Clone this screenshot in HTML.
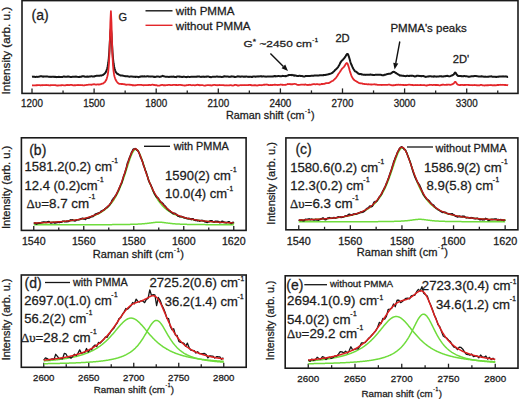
<!DOCTYPE html>
<html><head><meta charset="utf-8"><style>
html,body{margin:0;padding:0;background:#fff;}
body{width:520px;height:399px;overflow:hidden;}
svg{display:block;font-family:"Liberation Sans", sans-serif;}
text{stroke:#1c1c1c;stroke-width:0.28px;}
</style></head><body>
<svg width="520" height="399" viewBox="0 0 520 399">
<rect x="22.0" y="0.6" width="496.0" height="92.80000000000001" fill="none" stroke="#1a1a1a" stroke-width="1.6"/>
<line x1="32.00" y1="93.4" x2="32.00" y2="88.4" stroke="#222" stroke-width="1.3"/><line x1="94.10" y1="93.4" x2="94.10" y2="88.4" stroke="#222" stroke-width="1.3"/><line x1="156.20" y1="93.4" x2="156.20" y2="88.4" stroke="#222" stroke-width="1.3"/><line x1="218.30" y1="93.4" x2="218.30" y2="88.4" stroke="#222" stroke-width="1.3"/><line x1="280.40" y1="93.4" x2="280.40" y2="88.4" stroke="#222" stroke-width="1.3"/><line x1="342.50" y1="93.4" x2="342.50" y2="88.4" stroke="#222" stroke-width="1.3"/><line x1="404.60" y1="93.4" x2="404.60" y2="88.4" stroke="#222" stroke-width="1.3"/><line x1="466.70" y1="93.4" x2="466.70" y2="88.4" stroke="#222" stroke-width="1.3"/><line x1="63.05" y1="93.4" x2="63.05" y2="90.4" stroke="#222" stroke-width="1.3"/><line x1="125.15" y1="93.4" x2="125.15" y2="90.4" stroke="#222" stroke-width="1.3"/><line x1="187.25" y1="93.4" x2="187.25" y2="90.4" stroke="#222" stroke-width="1.3"/><line x1="249.35" y1="93.4" x2="249.35" y2="90.4" stroke="#222" stroke-width="1.3"/><line x1="311.45" y1="93.4" x2="311.45" y2="90.4" stroke="#222" stroke-width="1.3"/><line x1="373.55" y1="93.4" x2="373.55" y2="90.4" stroke="#222" stroke-width="1.3"/><line x1="435.65" y1="93.4" x2="435.65" y2="90.4" stroke="#222" stroke-width="1.3"/><line x1="497.75" y1="93.4" x2="497.75" y2="90.4" stroke="#222" stroke-width="1.3"/>
<text x="32.00" y="107.3" font-size="10.0" text-anchor="middle" font-weight="normal" fill="#1c1c1c" textLength="21.8" lengthAdjust="spacingAndGlyphs">1200</text><text x="94.10" y="107.3" font-size="10.0" text-anchor="middle" font-weight="normal" fill="#1c1c1c" textLength="21.8" lengthAdjust="spacingAndGlyphs">1500</text><text x="156.20" y="107.3" font-size="10.0" text-anchor="middle" font-weight="normal" fill="#1c1c1c" textLength="21.8" lengthAdjust="spacingAndGlyphs">1800</text><text x="218.30" y="107.3" font-size="10.0" text-anchor="middle" font-weight="normal" fill="#1c1c1c" textLength="21.8" lengthAdjust="spacingAndGlyphs">2100</text><text x="280.40" y="107.3" font-size="10.0" text-anchor="middle" font-weight="normal" fill="#1c1c1c" textLength="21.8" lengthAdjust="spacingAndGlyphs">2400</text><text x="342.50" y="107.3" font-size="10.0" text-anchor="middle" font-weight="normal" fill="#1c1c1c" textLength="21.8" lengthAdjust="spacingAndGlyphs">2700</text><text x="404.60" y="107.3" font-size="10.0" text-anchor="middle" font-weight="normal" fill="#1c1c1c" textLength="21.8" lengthAdjust="spacingAndGlyphs">3000</text><text x="466.70" y="107.3" font-size="10.0" text-anchor="middle" font-weight="normal" fill="#1c1c1c" textLength="21.8" lengthAdjust="spacingAndGlyphs">3300</text>
<text x="270.3" y="119.2" font-size="10.8" text-anchor="middle" fill="#1c1c1c">Raman shift (cm<tspan font-size="5.40" dx="0.43" dy="-6.48">-<tspan dx="0.76">1</tspan></tspan><tspan dx="0.43" dy="6.48">)</tspan></text>
<text transform="translate(10.2,50.6) rotate(-90)" font-size="11.7" text-anchor="middle" fill="#1c1c1c">Intensity (arb. u.)</text>
<polyline points="32.00,76.74 32.53,76.64 33.06,76.61 33.59,76.78 34.12,76.81 34.65,76.80 35.18,76.95 35.71,76.98 36.24,76.85 36.77,76.81 37.30,76.86 37.83,76.88 38.36,76.71 38.88,76.65 39.41,76.56 39.94,76.43 40.47,76.17 41.00,76.28 41.53,76.20 42.06,76.42 42.59,76.56 43.12,76.73 43.65,76.50 44.18,76.57 44.71,76.54 45.24,76.53 45.77,76.40 46.30,76.60 46.83,76.55 47.36,76.48 47.89,76.57 48.42,76.64 48.95,76.69 49.48,76.87 50.01,76.90 50.54,76.78 51.07,76.87 51.59,76.88 52.12,76.66 52.65,76.73 53.18,76.88 53.71,76.71 54.24,76.79 54.77,76.92 55.30,76.85 55.83,76.91 56.36,77.14 56.89,76.93 57.42,76.93 57.95,77.05 58.48,76.83 59.01,76.82 59.54,76.93 60.07,76.99 60.60,77.07 61.13,77.02 61.66,76.97 62.19,76.93 62.72,76.88 63.25,76.61 63.78,76.62 64.30,76.58 64.83,76.71 65.36,76.81 65.89,76.80 66.42,76.77 66.95,76.86 67.48,76.56 68.01,76.40 68.54,76.52 69.07,76.72 69.60,76.73 70.13,76.89 70.66,76.90 71.19,76.88 71.72,76.90 72.25,76.79 72.78,76.79 73.31,76.86 73.84,76.87 74.37,76.69 74.90,76.62 75.43,76.64 75.96,76.56 76.49,76.69 77.02,76.77 77.54,76.87 78.07,76.94 78.60,76.94 79.13,76.93 79.66,76.86 80.19,76.91 80.72,76.71 81.25,76.77 81.78,76.49 82.31,76.28 82.84,76.18 83.37,76.22 83.90,76.19 84.43,76.58 84.96,76.69 85.49,76.65 86.02,76.76 86.55,76.78 87.08,76.52 87.61,76.58 88.14,76.70 88.67,76.72 89.20,76.55 89.73,76.54 90.25,76.55 90.78,76.36 91.31,76.32 91.84,76.31 92.37,76.40 92.90,76.39 93.43,76.48 93.96,76.37 94.49,76.41 95.02,76.08 95.55,75.91 96.08,75.90 96.61,75.70 97.14,75.74 97.67,75.71 98.20,75.84 98.73,75.65 99.26,75.86 99.79,75.70 100.32,75.61 100.85,75.54 101.38,75.63 101.91,75.38 102.44,75.14 102.96,75.04 103.49,74.53 104.02,74.14 104.55,73.66 105.08,73.13 105.61,72.37 106.14,71.49 106.67,70.03 107.20,68.55 107.73,66.20 108.26,63.04 108.79,58.25 109.32,51.34 109.85,41.97 110.38,32.60 110.91,28.70 111.44,33.74 111.97,43.38 112.50,52.19 113.03,58.77 113.56,63.51 114.09,66.63 114.62,68.76 115.15,70.52 115.67,71.90 116.20,72.47 116.73,73.19 117.26,73.75 117.79,73.96 118.32,74.23 118.85,74.65 119.38,74.91 119.91,75.09 120.44,75.48 120.97,75.49 121.50,75.59 122.03,75.58 122.56,75.62 123.09,75.79 123.62,75.86 124.15,75.96 124.68,76.12 125.21,76.25 125.74,76.11 126.27,76.26 126.80,76.24 127.33,76.26 127.86,76.33 128.39,76.53 128.91,76.56 129.44,76.65 129.97,76.63 130.50,76.50 131.03,76.50 131.56,76.54 132.09,76.50 132.62,76.63 133.15,76.86 133.68,76.86 134.21,76.87 134.74,76.84 135.27,76.95 135.80,76.76 136.33,76.77 136.86,76.73 137.39,76.87 137.92,76.92 138.45,77.20 138.98,77.00 139.51,76.79 140.04,76.79 140.57,76.50 141.10,76.35 141.62,76.56 142.15,76.57 142.68,76.27 143.21,76.41 143.74,76.42 144.27,76.31 144.80,76.48 145.33,76.61 145.86,76.44 146.39,76.42 146.92,76.35 147.45,76.18 147.98,76.32 148.51,76.47 149.04,76.53 149.57,76.53 150.10,76.63 150.63,76.48 151.16,76.40 151.69,76.38 152.22,76.40 152.75,76.50 153.28,76.64 153.81,76.94 154.33,76.78 154.86,76.95 155.39,76.90 155.92,76.87 156.45,76.52 156.98,76.61 157.51,76.60 158.04,76.60 158.57,76.61 159.10,76.73 159.63,76.89 160.16,76.82 160.69,76.60 161.22,76.53 161.75,76.36 162.28,75.91 162.81,75.86 163.34,76.22 163.87,76.29 164.40,76.38 164.93,76.61 165.46,76.78 165.99,76.66 166.52,76.66 167.05,76.77 167.57,76.87 168.10,76.84 168.63,76.88 169.16,76.90 169.69,76.80 170.22,76.84 170.75,76.69 171.28,76.75 171.81,76.60 172.34,76.69 172.87,76.64 173.40,76.57 173.93,76.64 174.46,76.91 174.99,76.88 175.52,76.96 176.05,77.13 176.58,76.69 177.11,76.57 177.64,76.61 178.17,76.54 178.70,76.39 179.23,76.63 179.76,76.59 180.28,76.71 180.81,76.74 181.34,76.85 181.87,77.03 182.40,76.99 182.93,76.83 183.46,76.61 183.99,76.77 184.52,76.71 185.05,76.86 185.58,76.97 186.11,77.16 186.64,77.03 187.17,76.90 187.70,76.79 188.23,76.73 188.76,76.87 189.29,76.90 189.82,76.92 190.35,76.88 190.88,76.81 191.41,76.82 191.94,76.82 192.47,76.83 192.99,76.85 193.52,76.81 194.05,76.64 194.58,76.67 195.11,76.63 195.64,76.64 196.17,76.73 196.70,76.74 197.23,76.50 197.76,76.51 198.29,76.45 198.82,76.56 199.35,76.47 199.88,76.69 200.41,76.86 200.94,76.92 201.47,76.77 202.00,76.86 202.53,76.81 203.06,76.55 203.59,76.63 204.12,76.89 204.65,76.85 205.18,76.83 205.71,76.82 206.23,76.81 206.76,76.48 207.29,76.39 207.82,76.54 208.35,76.55 208.88,76.63 209.41,76.91 209.94,77.04 210.47,76.97 211.00,77.26 211.53,77.13 212.06,76.92 212.59,76.75 213.12,76.70 213.65,76.65 214.18,76.77 214.71,76.73 215.24,76.78 215.77,76.73 216.30,76.60 216.83,76.49 217.36,76.60 217.89,76.72 218.42,76.74 218.94,76.70 219.47,76.75 220.00,76.71 220.53,76.73 221.06,76.95 221.59,77.02 222.12,77.00 222.65,76.84 223.18,76.83 223.71,76.44 224.24,76.24 224.77,76.32 225.30,76.56 225.83,76.50 226.36,76.52 226.89,76.63 227.42,76.47 227.95,76.47 228.48,76.71 229.01,76.90 229.54,76.86 230.07,76.81 230.60,76.74 231.13,76.49 231.65,76.35 232.18,76.44 232.71,76.44 233.24,76.56 233.77,76.68 234.30,76.91 234.83,76.85 235.36,77.02 235.89,76.89 236.42,76.74 236.95,76.60 237.48,76.51 238.01,76.31 238.54,76.41 239.07,76.43 239.60,76.48 240.13,76.71 240.66,76.68 241.19,76.52 241.72,76.56 242.25,76.57 242.78,76.43 243.31,76.71 243.84,76.81 244.36,76.67 244.89,76.53 245.42,76.65 245.95,76.59 246.48,76.38 247.01,76.64 247.54,76.79 248.07,76.84 248.60,76.76 249.13,76.92 249.66,76.66 250.19,76.86 250.72,76.70 251.25,76.90 251.78,76.86 252.31,76.99 252.84,76.57 253.37,76.54 253.90,76.48 254.43,76.42 254.96,76.51 255.49,76.71 256.02,76.64 256.55,76.49 257.08,76.57 257.60,76.45 258.13,76.36 258.66,76.38 259.19,76.40 259.72,76.34 260.25,76.21 260.78,76.26 261.31,76.43 261.84,76.30 262.37,76.41 262.90,76.47 263.43,76.37 263.96,76.36 264.49,76.46 265.02,76.61 265.55,76.60 266.08,76.73 266.61,76.62 267.14,76.59 267.67,76.49 268.20,76.55 268.73,76.57 269.26,76.59 269.79,76.55 270.31,76.47 270.84,76.49 271.37,76.52 271.90,76.43 272.43,76.53 272.96,76.36 273.49,76.41 274.02,76.20 274.55,76.10 275.08,76.09 275.61,76.37 276.14,76.14 276.67,76.13 277.20,76.23 277.73,76.11 278.26,76.03 278.79,76.09 279.32,76.11 279.85,76.23 280.38,76.25 280.91,76.23 281.44,76.19 281.97,76.12 282.50,75.85 283.02,76.08 283.55,75.96 284.08,76.04 284.61,76.12 285.14,76.26 285.67,76.01 286.20,76.16 286.73,75.95 287.26,75.70 287.79,75.48 288.32,75.23 288.85,75.00 289.38,75.09 289.91,75.06 290.44,74.98 290.97,75.07 291.50,75.16 292.03,74.86 292.56,75.10 293.09,75.24 293.62,75.48 294.15,75.32 294.68,75.67 295.21,75.54 295.74,75.61 296.26,75.70 296.79,75.94 297.32,75.97 297.85,76.06 298.38,76.00 298.91,75.84 299.44,75.77 299.97,75.82 300.50,75.91 301.03,75.99 301.56,76.03 302.09,76.04 302.62,76.18 303.15,76.38 303.68,76.47 304.21,76.40 304.74,76.39 305.27,76.20 305.80,75.93 306.33,75.93 306.86,75.89 307.39,75.95 307.92,75.99 308.45,76.08 308.97,76.06 309.50,76.08 310.03,75.91 310.56,75.88 311.09,75.78 311.62,75.81 312.15,75.86 312.68,75.80 313.21,75.81 313.74,75.71 314.27,75.60 314.80,75.55 315.33,75.45 315.86,75.42 316.39,75.55 316.92,75.56 317.45,75.52 317.98,75.65 318.51,75.51 319.04,75.43 319.57,75.35 320.10,75.36 320.63,75.23 321.16,75.30 321.68,75.29 322.21,75.27 322.74,75.16 323.27,75.27 323.80,75.01 324.33,74.96 324.86,74.92 325.39,74.90 325.92,74.79 326.45,74.79 326.98,74.61 327.51,74.52 328.04,74.41 328.57,74.24 329.10,74.00 329.63,73.91 330.16,73.77 330.69,73.62 331.22,73.39 331.75,73.13 332.28,72.89 332.81,72.44 333.34,71.73 333.87,71.36 334.39,70.93 334.92,70.23 335.45,69.65 335.98,69.44 336.51,68.72 337.04,68.18 337.57,67.71 338.10,67.11 338.63,66.09 339.16,65.20 339.69,64.14 340.22,63.00 340.75,62.04 341.28,61.31 341.81,60.66 342.34,60.27 342.87,59.70 343.40,59.09 343.93,58.53 344.46,57.89 344.99,57.09 345.52,56.32 346.05,55.39 346.58,54.60 347.11,54.04 347.63,53.90 348.16,54.68 348.69,56.02 349.22,57.70 349.75,59.49 350.28,61.47 350.81,63.08 351.34,64.54 351.87,65.64 352.40,66.94 352.93,68.07 353.46,69.02 353.99,69.77 354.52,70.63 355.05,71.27 355.58,71.37 356.11,71.72 356.64,72.19 357.17,72.56 357.70,72.93 358.23,73.56 358.76,73.81 359.29,73.97 359.82,74.14 360.34,74.06 360.87,74.07 361.40,74.24 361.93,74.51 362.46,74.51 362.99,74.64 363.52,74.73 364.05,74.84 364.58,74.69 365.11,74.91 365.64,74.86 366.17,74.86 366.70,74.73 367.23,74.84 367.76,74.82 368.29,74.79 368.82,74.73 369.35,74.80 369.88,74.66 370.41,74.41 370.94,74.67 371.47,74.82 372.00,74.84 372.53,74.85 373.05,75.11 373.58,74.98 374.11,75.03 374.64,74.89 375.17,74.84 375.70,74.75 376.23,74.70 376.76,74.65 377.29,74.76 377.82,74.74 378.35,74.72 378.88,74.75 379.41,74.76 379.94,74.66 380.47,74.70 381.00,74.80 381.53,75.05 382.06,75.15 382.59,75.21 383.12,75.26 383.65,75.27 384.18,75.02 384.71,74.69 385.24,74.67 385.77,74.66 386.29,74.38 386.82,74.18 387.35,74.07 387.88,74.06 388.41,73.84 388.94,73.80 389.47,73.84 390.00,73.87 390.53,73.54 391.06,73.40 391.59,73.00 392.12,72.60 392.65,72.10 393.18,71.99 393.71,71.82 394.24,71.92 394.77,72.17 395.30,72.62 395.83,72.98 396.36,73.21 396.89,73.53 397.42,73.83 397.95,74.36 398.48,74.60 399.00,74.93 399.53,75.26 400.06,75.63 400.59,75.46 401.12,75.43 401.65,75.65 402.18,75.70 402.71,75.63 403.24,75.67 403.77,75.95 404.30,76.05 404.83,76.11 405.36,76.15 405.89,76.04 406.42,75.95 406.95,75.79 407.48,75.81 408.01,75.84 408.54,76.04 409.07,75.83 409.60,75.91 410.13,75.81 410.66,75.73 411.19,75.73 411.71,75.88 412.24,75.63 412.77,75.85 413.30,75.92 413.83,76.11 414.36,76.36 414.89,76.61 415.42,76.32 415.95,76.21 416.48,75.99 417.01,75.75 417.54,75.77 418.07,75.76 418.60,75.89 419.13,75.87 419.66,75.96 420.19,75.95 420.72,76.13 421.25,76.09 421.78,76.20 422.31,76.11 422.84,75.96 423.37,75.99 423.90,76.19 424.43,76.45 424.95,76.65 425.48,76.90 426.01,76.84 426.54,76.80 427.07,76.60 427.60,76.47 428.13,76.37 428.66,76.45 429.19,76.27 429.72,76.27 430.25,76.17 430.78,76.16 431.31,76.39 431.84,76.43 432.37,76.41 432.90,76.58 433.43,76.69 433.96,76.35 434.49,76.34 435.02,76.46 435.55,76.44 436.08,76.38 436.61,76.65 437.14,76.60 437.66,76.52 438.19,76.44 438.72,76.58 439.25,76.23 439.78,76.23 440.31,76.17 440.84,76.29 441.37,76.20 441.90,76.54 442.43,76.44 442.96,76.57 443.49,76.47 444.02,76.34 444.55,76.25 445.08,76.31 445.61,76.02 446.14,76.00 446.67,75.91 447.20,75.78 447.73,75.89 448.26,76.11 448.79,76.29 449.32,76.39 449.85,76.26 450.37,76.09 450.90,75.90 451.43,75.52 451.96,75.44 452.49,75.33 453.02,74.90 453.55,74.59 454.08,74.00 454.61,73.08 455.14,72.45 455.67,72.88 456.20,73.68 456.73,74.68 457.26,75.31 457.79,75.74 458.32,75.99 458.85,76.02 459.38,76.00 459.91,76.03 460.44,76.07 460.97,75.95 461.50,76.30 462.03,76.36 462.56,76.29 463.08,76.11 463.61,76.24 464.14,76.08 464.67,76.01 465.20,76.15 465.73,76.27 466.26,76.36 466.79,76.30 467.32,76.38 467.85,76.47 468.38,76.80 468.91,76.65 469.44,76.68 469.97,76.60 470.50,76.58 471.03,76.21 471.56,76.27 472.09,76.31 472.62,76.30 473.15,76.13 473.68,76.20 474.21,76.04 474.74,75.90 475.27,75.95 475.80,76.07 476.32,76.10 476.85,76.13 477.38,76.23 477.91,76.36 478.44,76.40 478.97,76.41 479.50,76.50 480.03,76.61 480.56,76.47 481.09,76.30 481.62,76.23 482.15,76.46 482.68,76.42 483.21,76.60 483.74,76.67 484.27,76.85 484.80,76.64 485.33,76.60 485.86,76.74 486.39,76.86 486.92,76.72 487.45,76.77 487.98,76.82 488.51,76.69 489.03,76.56 489.56,76.44 490.09,76.42 490.62,76.39 491.15,76.28 491.68,76.46 492.21,76.67 492.74,76.78 493.27,76.67 493.80,76.74 494.33,76.82 494.86,76.87 495.39,76.81 495.92,76.94 496.45,77.03 496.98,76.73 497.51,76.64 498.04,76.66 498.57,76.72 499.10,76.49 499.63,76.62 500.16,76.60 500.69,76.57 501.22,76.48 501.74,76.41 502.27,76.37 502.80,76.49 503.33,76.38 503.86,76.37 504.39,76.55 504.92,76.45 505.45,76.38 505.98,76.37 506.51,76.51 507.04,76.67 507.57,76.98 508.10,76.94" fill="none" stroke="#161616" stroke-width="2.0" stroke-linejoin="round" />
<polyline points="32.00,85.27 32.53,85.30 33.06,85.29 33.59,85.39 34.12,85.28 34.65,85.33 35.18,85.27 35.71,85.33 36.24,85.22 36.77,85.24 37.30,85.26 37.83,85.05 38.36,85.07 38.88,85.12 39.41,85.09 39.94,85.14 40.47,85.41 41.00,85.29 41.53,85.18 42.06,85.15 42.59,85.24 43.12,85.04 43.65,85.17 44.18,85.18 44.71,85.10 45.24,85.11 45.77,85.22 46.30,85.01 46.83,85.03 47.36,85.20 47.89,85.19 48.42,85.17 48.95,85.31 49.48,85.40 50.01,85.26 50.54,85.19 51.07,85.23 51.59,85.15 52.12,85.05 52.65,85.10 53.18,85.08 53.71,85.03 54.24,85.04 54.77,85.17 55.30,85.18 55.83,85.25 56.36,85.40 56.89,85.49 57.42,85.58 57.95,85.49 58.48,85.49 59.01,85.36 59.54,85.46 60.07,85.41 60.60,85.32 61.13,85.17 61.66,85.25 62.19,85.16 62.72,85.08 63.25,85.23 63.78,85.35 64.30,85.35 64.83,85.28 65.36,85.30 65.89,85.12 66.42,85.13 66.95,84.99 67.48,85.07 68.01,84.96 68.54,85.08 69.07,85.05 69.60,85.06 70.13,84.90 70.66,84.79 71.19,84.86 71.72,84.87 72.25,85.03 72.78,85.09 73.31,85.31 73.84,85.31 74.37,85.26 74.90,85.22 75.43,85.31 75.96,85.19 76.49,85.17 77.02,85.16 77.54,85.12 78.07,84.95 78.60,85.06 79.13,85.04 79.66,85.09 80.19,85.01 80.72,85.11 81.25,85.05 81.78,85.05 82.31,85.17 82.84,85.26 83.37,85.38 83.90,85.42 84.43,85.39 84.96,85.18 85.49,85.18 86.02,85.03 86.55,84.95 87.08,84.97 87.61,84.84 88.14,84.77 88.67,84.57 89.20,84.59 89.73,84.54 90.25,84.61 90.78,84.60 91.31,84.79 91.84,84.62 92.37,84.52 92.90,84.47 93.43,84.29 93.96,84.16 94.49,84.39 95.02,84.42 95.55,84.53 96.08,84.55 96.61,84.61 97.14,84.40 97.67,84.44 98.20,84.37 98.73,84.57 99.26,84.48 99.79,84.44 100.32,84.26 100.85,84.15 101.38,83.85 101.91,83.75 102.44,83.55 102.96,83.55 103.49,83.07 104.02,82.73 104.55,82.32 105.08,81.77 105.61,80.88 106.14,80.13 106.67,78.83 107.20,77.07 107.73,74.85 108.26,71.32 108.79,65.47 109.32,56.19 109.85,41.38 110.38,22.10 110.91,11.20 111.44,21.99 111.97,41.30 112.50,56.16 113.03,65.37 113.56,71.12 114.09,74.73 114.62,77.05 115.15,78.49 115.67,79.80 116.20,80.73 116.73,81.58 117.26,82.32 117.79,83.01 118.32,83.19 118.85,83.58 119.38,83.86 119.91,83.83 120.44,83.81 120.97,84.02 121.50,83.93 122.03,84.06 122.56,84.00 123.09,84.06 123.62,84.12 124.15,84.29 124.68,84.23 125.21,84.50 125.74,84.62 126.27,84.77 126.80,84.64 127.33,84.66 127.86,84.60 128.39,84.66 128.91,84.61 129.44,84.73 129.97,84.69 130.50,84.84 131.03,84.87 131.56,84.81 132.09,85.07 132.62,85.33 133.15,85.15 133.68,85.16 134.21,85.44 134.74,85.34 135.27,85.18 135.80,85.29 136.33,85.23 136.86,85.01 137.39,84.90 137.92,84.96 138.45,84.95 138.98,84.96 139.51,84.88 140.04,84.93 140.57,84.80 141.10,84.82 141.62,84.95 142.15,85.08 142.68,85.13 143.21,85.24 143.74,85.27 144.27,85.17 144.80,85.12 145.33,85.14 145.86,85.03 146.39,85.14 146.92,85.15 147.45,85.12 147.98,85.02 148.51,85.05 149.04,84.96 149.57,84.90 150.10,85.06 150.63,85.03 151.16,84.90 151.69,84.83 152.22,84.72 152.75,84.63 153.28,84.78 153.81,85.03 154.33,84.98 154.86,85.08 155.39,85.24 155.92,85.18 156.45,85.12 156.98,85.33 157.51,85.59 158.04,85.56 158.57,85.54 159.10,85.57 159.63,85.54 160.16,85.28 160.69,85.09 161.22,85.08 161.75,84.97 162.28,84.92 162.81,84.98 163.34,85.26 163.87,85.19 164.40,85.26 164.93,85.25 165.46,85.28 165.99,85.17 166.52,85.20 167.05,85.14 167.57,85.02 168.10,84.91 168.63,84.86 169.16,84.91 169.69,84.89 170.22,85.00 170.75,85.08 171.28,85.08 171.81,85.03 172.34,85.09 172.87,84.97 173.40,84.87 173.93,84.96 174.46,84.83 174.99,84.83 175.52,85.00 176.05,85.06 176.58,84.86 177.11,85.04 177.64,85.06 178.17,85.04 178.70,84.91 179.23,84.97 179.76,84.90 180.28,84.86 180.81,84.88 181.34,85.10 181.87,85.18 182.40,85.21 182.93,85.34 183.46,85.41 183.99,85.46 184.52,85.50 185.05,85.53 185.58,85.44 186.11,85.41 186.64,85.20 187.17,85.10 187.70,85.07 188.23,85.05 188.76,84.84 189.29,84.88 189.82,84.86 190.35,84.98 190.88,85.09 191.41,85.23 191.94,85.29 192.47,85.22 192.99,85.18 193.52,85.08 194.05,85.13 194.58,85.30 195.11,85.36 195.64,85.20 196.17,85.15 196.70,84.98 197.23,84.73 197.76,84.85 198.29,84.99 198.82,84.93 199.35,85.11 199.88,85.32 200.41,85.18 200.94,85.10 201.47,85.20 202.00,85.17 202.53,85.12 203.06,85.25 203.59,85.40 204.12,85.53 204.65,85.62 205.18,85.62 205.71,85.39 206.23,85.28 206.76,85.21 207.29,85.06 207.82,85.08 208.35,85.18 208.88,85.12 209.41,85.21 209.94,85.30 210.47,85.24 211.00,85.35 211.53,85.51 212.06,85.42 212.59,85.16 213.12,85.08 213.65,84.97 214.18,84.80 214.71,84.79 215.24,85.09 215.77,85.11 216.30,85.05 216.83,85.30 217.36,85.25 217.89,85.04 218.42,85.10 218.94,85.23 219.47,85.00 220.00,85.11 220.53,85.17 221.06,85.07 221.59,85.05 222.12,85.17 222.65,85.06 223.18,85.12 223.71,85.19 224.24,85.41 224.77,85.29 225.30,85.46 225.83,85.42 226.36,85.42 226.89,85.25 227.42,85.38 227.95,85.37 228.48,85.40 229.01,85.36 229.54,85.26 230.07,85.22 230.60,85.16 231.13,85.25 231.65,85.34 232.18,85.47 232.71,85.55 233.24,85.52 233.77,85.28 234.30,85.14 234.83,84.94 235.36,84.94 235.89,84.86 236.42,85.08 236.95,85.23 237.48,85.49 238.01,85.44 238.54,85.50 239.07,85.38 239.60,85.34 240.13,85.21 240.66,85.08 241.19,85.09 241.72,85.24 242.25,85.09 242.78,85.10 243.31,85.06 243.84,85.08 244.36,85.02 244.89,85.15 245.42,85.19 245.95,85.14 246.48,85.21 247.01,85.09 247.54,85.15 248.07,85.10 248.60,85.01 249.13,84.86 249.66,84.92 250.19,85.00 250.72,85.01 251.25,85.24 251.78,85.19 252.31,85.29 252.84,85.31 253.37,85.29 253.90,85.24 254.43,85.23 254.96,85.18 255.49,85.25 256.02,85.31 256.55,85.43 257.08,85.61 257.60,85.45 258.13,85.34 258.66,85.17 259.19,85.05 259.72,85.02 260.25,85.18 260.78,85.10 261.31,85.23 261.84,85.19 262.37,85.05 262.90,84.98 263.43,84.89 263.96,84.74 264.49,84.70 265.02,84.76 265.55,84.60 266.08,84.54 266.61,84.51 267.14,84.63 267.67,84.70 268.20,85.02 268.73,85.01 269.26,85.08 269.79,85.14 270.31,85.09 270.84,84.89 271.37,85.15 271.90,85.17 272.43,85.00 272.96,84.90 273.49,84.95 274.02,84.83 274.55,84.74 275.08,84.74 275.61,84.89 276.14,84.90 276.67,84.82 277.20,84.97 277.73,85.09 278.26,84.89 278.79,84.80 279.32,84.88 279.85,84.76 280.38,84.52 280.91,84.63 281.44,84.70 281.97,84.77 282.50,84.61 283.02,84.98 283.55,84.88 284.08,84.85 284.61,84.78 285.14,85.00 285.67,84.73 286.20,84.66 286.73,84.56 287.26,84.31 287.79,83.92 288.32,84.04 288.85,84.09 289.38,84.10 289.91,84.01 290.44,84.30 290.97,84.18 291.50,84.29 292.03,84.19 292.56,84.25 293.09,84.21 293.62,83.99 294.15,83.80 294.68,83.89 295.21,83.98 295.74,84.04 296.26,84.27 296.79,84.62 297.32,84.76 297.85,84.86 298.38,85.00 298.91,84.97 299.44,84.80 299.97,84.78 300.50,84.69 301.03,84.57 301.56,84.53 302.09,84.58 302.62,84.64 303.15,84.68 303.68,84.72 304.21,84.76 304.74,84.65 305.27,84.40 305.80,84.58 306.33,84.76 306.86,84.86 307.39,84.89 307.92,85.05 308.45,84.89 308.97,84.75 309.50,84.72 310.03,84.79 310.56,84.77 311.09,84.73 311.62,84.62 312.15,84.43 312.68,84.35 313.21,84.17 313.74,84.18 314.27,84.11 314.80,84.24 315.33,84.29 315.86,84.27 316.39,84.19 316.92,84.16 317.45,84.18 317.98,84.25 318.51,84.41 319.04,84.41 319.57,84.57 320.10,84.34 320.63,84.28 321.16,84.10 321.68,83.85 322.21,83.89 322.74,84.09 323.27,83.81 323.80,83.81 324.33,83.95 324.86,83.65 325.39,83.31 325.92,83.24 326.45,83.16 326.98,83.08 327.51,83.05 328.04,83.04 328.57,83.14 329.10,82.88 329.63,82.70 330.16,82.23 330.69,81.90 331.22,81.57 331.75,81.27 332.28,80.99 332.81,80.80 333.34,80.44 333.87,79.87 334.39,79.43 334.92,78.82 335.45,78.29 335.98,77.78 336.51,77.05 337.04,76.23 337.57,75.45 338.10,74.49 338.63,73.61 339.16,72.96 339.69,72.22 340.22,71.36 340.75,70.62 341.28,69.83 341.81,68.99 342.34,68.37 342.87,67.87 343.40,67.34 343.93,66.86 344.46,66.15 344.99,65.33 345.52,64.31 346.05,63.61 346.58,63.03 347.11,63.18 347.63,63.88 348.16,65.35 348.69,66.88 349.22,68.80 349.75,70.79 350.28,72.40 350.81,73.98 351.34,75.54 351.87,76.71 352.40,77.58 352.93,78.66 353.46,79.25 353.99,79.78 354.52,80.22 355.05,80.57 355.58,80.82 356.11,81.22 356.64,81.52 357.17,81.91 357.70,82.09 358.23,82.53 358.76,82.84 359.29,83.06 359.82,83.15 360.34,83.41 360.87,83.41 361.40,83.47 361.93,83.37 362.46,83.56 362.99,83.91 363.52,83.78 364.05,83.91 364.58,84.16 365.11,84.15 365.64,84.08 366.17,84.19 366.70,84.17 367.23,84.31 367.76,84.35 368.29,84.24 368.82,84.39 369.35,84.37 369.88,84.42 370.41,84.39 370.94,84.53 371.47,84.44 372.00,84.56 372.53,84.45 373.05,84.33 373.58,84.28 374.11,84.32 374.64,84.24 375.17,84.40 375.70,84.55 376.23,84.47 376.76,84.71 377.29,84.77 377.82,84.79 378.35,84.93 378.88,84.95 379.41,84.84 379.94,84.95 380.47,84.91 381.00,84.89 381.53,84.98 382.06,84.99 382.59,84.85 383.12,84.94 383.65,84.95 384.18,84.86 384.71,84.84 385.24,84.96 385.77,84.85 386.29,84.85 386.82,84.90 387.35,84.95 387.88,84.75 388.41,84.59 388.94,84.68 389.47,84.70 390.00,84.73 390.53,84.99 391.06,85.16 391.59,85.10 392.12,85.33 392.65,85.36 393.18,85.23 393.71,85.24 394.24,85.28 394.77,85.03 395.30,84.98 395.83,85.00 396.36,84.78 396.89,84.73 397.42,84.78 397.95,84.74 398.48,84.62 399.00,84.76 399.53,84.78 400.06,84.81 400.59,84.76 401.12,84.95 401.65,84.88 402.18,84.87 402.71,84.98 403.24,85.02 403.77,84.92 404.30,85.12 404.83,85.11 405.36,84.98 405.89,85.06 406.42,85.19 406.95,84.91 407.48,84.88 408.01,84.82 408.54,84.71 409.07,84.55 409.60,84.67 410.13,84.77 410.66,84.78 411.19,84.88 411.71,84.99 412.24,85.00 412.77,84.99 413.30,85.21 413.83,85.23 414.36,85.14 414.89,85.20 415.42,85.11 415.95,85.00 416.48,85.04 417.01,85.03 417.54,85.02 418.07,85.19 418.60,85.13 419.13,85.07 419.66,85.06 420.19,85.01 420.72,84.87 421.25,85.09 421.78,85.04 422.31,85.09 422.84,85.11 423.37,85.14 423.90,85.02 424.43,85.07 424.95,85.29 425.48,85.35 426.01,85.49 426.54,85.46 427.07,85.49 427.60,85.20 428.13,85.17 428.66,85.05 429.19,85.00 429.72,84.77 430.25,84.97 430.78,84.95 431.31,84.92 431.84,84.92 432.37,85.08 432.90,85.04 433.43,84.96 433.96,84.92 434.49,84.97 435.02,85.00 435.55,84.93 436.08,84.99 436.61,85.00 437.14,84.97 437.66,85.06 438.19,85.00 438.72,85.17 439.25,85.31 439.78,85.28 440.31,85.24 440.84,85.21 441.37,84.93 441.90,84.75 442.43,84.75 442.96,84.66 443.49,84.73 444.02,84.88 444.55,84.81 445.08,84.88 445.61,84.78 446.14,84.76 446.67,84.70 447.20,84.77 447.73,84.60 448.26,84.62 448.79,84.65 449.32,84.71 449.85,84.82 450.37,84.80 450.90,84.75 451.43,84.59 451.96,84.46 452.49,84.06 453.02,83.98 453.55,83.59 454.08,82.99 454.61,82.18 455.14,81.81 455.67,81.89 456.20,82.77 456.73,83.60 457.26,84.22 457.79,84.60 458.32,84.79 458.85,84.98 459.38,85.09 459.91,85.08 460.44,84.95 460.97,84.98 461.50,84.96 462.03,84.86 462.56,84.93 463.08,85.06 463.61,85.12 464.14,84.88 464.67,84.99 465.20,85.00 465.73,84.91 466.26,84.91 466.79,84.90 467.32,84.97 467.85,84.86 468.38,85.00 468.91,84.84 469.44,85.10 469.97,85.03 470.50,85.16 471.03,85.01 471.56,85.11 472.09,85.24 472.62,85.20 473.15,85.07 473.68,85.13 474.21,85.10 474.74,85.01 475.27,85.22 475.80,85.22 476.32,85.10 476.85,85.29 477.38,85.28 477.91,85.21 478.44,85.37 478.97,85.44 479.50,85.33 480.03,85.12 480.56,84.93 481.09,84.92 481.62,84.94 482.15,85.14 482.68,85.26 483.21,85.33 483.74,85.31 484.27,85.52 484.80,85.37 485.33,85.26 485.86,85.35 486.39,85.40 486.92,85.21 487.45,85.10 487.98,85.29 488.51,85.27 489.03,85.06 489.56,85.07 490.09,85.08 490.62,85.02 491.15,85.01 491.68,85.20 492.21,85.29 492.74,85.23 493.27,85.24 493.80,85.30 494.33,85.24 494.86,85.27 495.39,85.36 495.92,85.24 496.45,85.25 496.98,85.12 497.51,84.85 498.04,84.99 498.57,85.00 499.10,84.90 499.63,84.87 500.16,84.94 500.69,84.76 501.22,84.79 501.74,84.85 502.27,84.77 502.80,84.95 503.33,84.95 503.86,84.89 504.39,84.91 504.92,85.10 505.45,84.91 505.98,85.16 506.51,85.18 507.04,85.14 507.57,85.17 508.10,85.41" fill="none" stroke="#e3262a" stroke-width="1.8" stroke-linejoin="round" />
<line x1="145.5" y1="10.8" x2="172.5" y2="10.8" stroke="#161616" stroke-width="1.4"/>
<line x1="145.5" y1="25.3" x2="172.5" y2="25.3" stroke="#e3262a" stroke-width="1.4"/>
<text x="175.8" y="15.4" font-size="11.6" text-anchor="start" font-weight="normal" fill="#1c1c1c" >with PMMA</text>
<text x="175.8" y="29.6" font-size="11.6" text-anchor="start" font-weight="normal" fill="#1c1c1c" >without PMMA</text>
<text x="31.5" y="19.5" font-size="14" text-anchor="start" font-weight="normal" fill="#1c1c1c" >(a)</text>
<text x="118.6" y="21.3" font-size="11" text-anchor="start" font-weight="normal" fill="#1c1c1c" >G</text>
<g transform="translate(243.6,47.3) scale(1.2,1)"><text x="0" y="0" font-size="9.9" fill="#1c1c1c">G<tspan font-size="7" dy="-3.2">*</tspan><tspan dy="3.2"> ~2450 cm</tspan><tspan font-size="5" dx="0.3" dy="-5.6">-<tspan dx="0.4">1</tspan></tspan></text></g>
<text x="335.4" y="41.7" font-size="11.2" text-anchor="start" font-weight="normal" fill="#1c1c1c" >2D</text>
<text x="452.8" y="62.6" font-size="11.2" text-anchor="start" font-weight="normal" fill="#1c1c1c" >2D'</text>
<text x="390.4" y="32.3" font-size="11.5" text-anchor="start" font-weight="normal" fill="#1c1c1c" >PMMA's peaks</text>
<line x1="270.4" y1="53.5" x2="283.39" y2="66.42" stroke="#111" stroke-width="1.4"/><polygon points="288,71 281.56,68.26 285.22,64.57" fill="#111"/>
<line x1="399.8" y1="41.5" x2="395.79" y2="63.11" stroke="#111" stroke-width="1.4"/><polygon points="394.6,69.5 393.23,62.63 398.34,63.58" fill="#111"/>
<rect x="21.4" y="137.8" width="224.7" height="92.6" fill="none" stroke="#1a1a1a" stroke-width="1.6"/>
<line x1="33.75" y1="230.4" x2="33.75" y2="225.9" stroke="#222" stroke-width="1.3"/><line x1="83.75" y1="230.4" x2="83.75" y2="225.9" stroke="#222" stroke-width="1.3"/><line x1="133.75" y1="230.4" x2="133.75" y2="225.9" stroke="#222" stroke-width="1.3"/><line x1="183.75" y1="230.4" x2="183.75" y2="225.9" stroke="#222" stroke-width="1.3"/><line x1="233.75" y1="230.4" x2="233.75" y2="225.9" stroke="#222" stroke-width="1.3"/><line x1="58.75" y1="230.4" x2="58.75" y2="227.4" stroke="#222" stroke-width="1.3"/><line x1="108.75" y1="230.4" x2="108.75" y2="227.4" stroke="#222" stroke-width="1.3"/><line x1="158.75" y1="230.4" x2="158.75" y2="227.4" stroke="#222" stroke-width="1.3"/><line x1="208.75" y1="230.4" x2="208.75" y2="227.4" stroke="#222" stroke-width="1.3"/>
<text x="33.75" y="244.6" font-size="10.3" text-anchor="middle" font-weight="normal" fill="#1c1c1c" textLength="23.6" lengthAdjust="spacingAndGlyphs">1540</text><text x="83.75" y="244.6" font-size="10.3" text-anchor="middle" font-weight="normal" fill="#1c1c1c" textLength="23.6" lengthAdjust="spacingAndGlyphs">1560</text><text x="133.75" y="244.6" font-size="10.3" text-anchor="middle" font-weight="normal" fill="#1c1c1c" textLength="23.6" lengthAdjust="spacingAndGlyphs">1580</text><text x="183.75" y="244.6" font-size="10.3" text-anchor="middle" font-weight="normal" fill="#1c1c1c" textLength="23.6" lengthAdjust="spacingAndGlyphs">1600</text><text x="233.75" y="244.6" font-size="10.3" text-anchor="middle" font-weight="normal" fill="#1c1c1c" textLength="23.6" lengthAdjust="spacingAndGlyphs">1620</text>
<text x="138.4" y="258.3" font-size="11.1" text-anchor="middle" fill="#1c1c1c">Raman shift (cm<tspan font-size="5.55" dx="0.44" dy="-6.66">-<tspan dx="0.78">1</tspan></tspan><tspan dx="0.44" dy="6.66">)</tspan></text>
<text transform="translate(10.2,187.4) rotate(-90)" font-size="11.1" text-anchor="middle" fill="#1c1c1c">Intensity (arb. u.)</text>
<polyline points="33.75,224.77 34.25,224.77 34.75,224.77 35.25,224.77 35.76,224.77 36.26,224.77 36.76,224.77 37.26,224.77 37.76,224.77 38.26,224.77 38.76,224.77 39.26,224.77 39.77,224.77 40.27,224.77 40.77,224.77 41.27,224.77 41.77,224.77 42.27,224.77 42.77,224.77 43.27,224.77 43.78,224.77 44.28,224.77 44.78,224.77 45.28,224.77 45.78,224.77 46.28,224.77 46.78,224.77 47.28,224.77 47.79,224.77 48.29,224.77 48.79,224.77 49.29,224.77 49.79,224.77 50.29,224.77 50.79,224.77 51.29,224.77 51.80,224.76 52.30,224.76 52.80,224.76 53.30,224.76 53.80,224.76 54.30,224.76 54.80,224.76 55.30,224.76 55.81,224.76 56.31,224.76 56.81,224.76 57.31,224.76 57.81,224.76 58.31,224.76 58.81,224.76 59.31,224.76 59.82,224.76 60.32,224.76 60.82,224.76 61.32,224.76 61.82,224.76 62.32,224.76 62.82,224.76 63.32,224.76 63.83,224.76 64.33,224.76 64.83,224.75 65.33,224.75 65.83,224.75 66.33,224.75 66.83,224.75 67.33,224.75 67.84,224.75 68.34,224.75 68.84,224.75 69.34,224.75 69.84,224.75 70.34,224.75 70.84,224.75 71.34,224.75 71.85,224.75 72.35,224.75 72.85,224.75 73.35,224.75 73.85,224.74 74.35,224.74 74.85,224.74 75.35,224.74 75.86,224.74 76.36,224.74 76.86,224.74 77.36,224.74 77.86,224.74 78.36,224.74 78.86,224.74 79.36,224.74 79.87,224.74 80.37,224.74 80.87,224.73 81.37,224.73 81.87,224.73 82.37,224.73 82.87,224.73 83.37,224.73 83.88,224.73 84.38,224.73 84.88,224.73 85.38,224.73 85.88,224.73 86.38,224.72 86.88,224.72 87.38,224.72 87.89,224.72 88.39,224.72 88.89,224.72 89.39,224.72 89.89,224.72 90.39,224.72 90.89,224.71 91.39,224.71 91.90,224.71 92.40,224.71 92.90,224.71 93.40,224.71 93.90,224.71 94.40,224.71 94.90,224.70 95.40,224.70 95.91,224.70 96.41,224.70 96.91,224.70 97.41,224.70 97.91,224.69 98.41,224.69 98.91,224.69 99.41,224.69 99.92,224.69 100.42,224.69 100.92,224.68 101.42,224.68 101.92,224.68 102.42,224.68 102.92,224.68 103.42,224.67 103.93,224.67 104.43,224.67 104.93,224.67 105.43,224.66 105.93,224.66 106.43,224.66 106.93,224.66 107.43,224.65 107.94,224.65 108.44,224.65 108.94,224.65 109.44,224.64 109.94,224.64 110.44,224.64 110.94,224.63 111.44,224.63 111.95,224.63 112.45,224.62 112.95,224.62 113.45,224.62 113.95,224.61 114.45,224.61 114.95,224.60 115.45,224.60 115.96,224.60 116.46,224.59 116.96,224.59 117.46,224.58 117.96,224.58 118.46,224.57 118.96,224.57 119.46,224.56 119.97,224.56 120.47,224.55 120.97,224.54 121.47,224.54 121.97,224.53 122.47,224.52 122.97,224.52 123.47,224.51 123.98,224.50 124.48,224.49 124.98,224.49 125.48,224.48 125.98,224.47 126.48,224.46 126.98,224.45 127.48,224.44 127.99,224.43 128.49,224.42 128.99,224.41 129.49,224.40 129.99,224.39 130.49,224.37 130.99,224.36 131.49,224.35 132.00,224.33 132.50,224.32 133.00,224.30 133.50,224.29 134.00,224.27 134.50,224.25 135.00,224.24 135.50,224.22 136.01,224.20 136.51,224.18 137.01,224.15 137.51,224.13 138.01,224.11 138.51,224.08 139.01,224.06 139.51,224.03 140.02,224.00 140.52,223.97 141.02,223.94 141.52,223.90 142.02,223.87 142.52,223.83 143.02,223.79 143.52,223.75 144.03,223.71 144.53,223.67 145.03,223.62 145.53,223.57 146.03,223.52 146.53,223.47 147.03,223.42 147.53,223.36 148.04,223.30 148.54,223.24 149.04,223.18 149.54,223.11 150.04,223.05 150.54,222.98 151.04,222.92 151.54,222.85 152.05,222.78 152.55,222.71 153.05,222.65 153.55,222.58 154.05,222.52 154.55,222.46 155.05,222.41 155.55,222.36 156.06,222.32 156.56,222.28 157.06,222.25 157.56,222.22 158.06,222.21 158.56,222.20 159.06,222.20 159.56,222.21 160.07,222.23 160.57,222.25 161.07,222.29 161.57,222.33 162.07,222.37 162.57,222.42 163.07,222.48 163.57,222.54 164.08,222.60 164.58,222.66 165.08,222.73 165.58,222.80 166.08,222.87 166.58,222.93 167.08,223.00 167.58,223.07 168.09,223.13 168.59,223.19 169.09,223.26 169.59,223.32 170.09,223.37 170.59,223.43 171.09,223.48 171.59,223.54 172.10,223.58 172.60,223.63 173.10,223.68 173.60,223.72 174.10,223.76 174.60,223.80 175.10,223.84 175.60,223.88 176.11,223.91 176.61,223.94 177.11,223.98 177.61,224.01 178.11,224.04 178.61,224.06 179.11,224.09 179.61,224.11 180.12,224.14 180.62,224.16 181.12,224.18 181.62,224.20 182.12,224.22 182.62,224.24 183.12,224.26 183.62,224.28 184.13,224.29 184.63,224.31 185.13,224.32 185.63,224.34 186.13,224.35 186.63,224.36 187.13,224.38 187.63,224.39 188.14,224.40 188.64,224.41 189.14,224.42 189.64,224.43 190.14,224.44 190.64,224.45 191.14,224.46 191.64,224.47 192.15,224.48 192.65,224.49 193.15,224.50 193.65,224.50 194.15,224.51 194.65,224.52 195.15,224.53 195.65,224.53 196.16,224.54 196.66,224.55 197.16,224.55 197.66,224.56 198.16,224.56 198.66,224.57 199.16,224.57 199.66,224.58 200.17,224.58 200.67,224.59 201.17,224.59 201.67,224.60 202.17,224.60 202.67,224.61 203.17,224.61 203.67,224.61 204.18,224.62 204.68,224.62 205.18,224.62 205.68,224.63 206.18,224.63 206.68,224.63 207.18,224.64 207.68,224.64 208.19,224.64 208.69,224.65 209.19,224.65 209.69,224.65 210.19,224.66 210.69,224.66 211.19,224.66 211.69,224.66 212.20,224.67 212.70,224.67 213.20,224.67 213.70,224.67 214.20,224.67 214.70,224.68 215.20,224.68 215.70,224.68 216.21,224.68 216.71,224.68 217.21,224.69 217.71,224.69 218.21,224.69 218.71,224.69 219.21,224.69 219.71,224.70 220.22,224.70 220.72,224.70 221.22,224.70 221.72,224.70 222.22,224.70 222.72,224.70 223.22,224.71 223.72,224.71 224.23,224.71 224.73,224.71 225.23,224.71 225.73,224.71 226.23,224.71 226.73,224.71 227.23,224.72 227.73,224.72 228.24,224.72 228.74,224.72 229.24,224.72 229.74,224.72 230.24,224.72 230.74,224.72 231.24,224.72 231.74,224.73 232.25,224.73 232.75,224.73 233.25,224.73 233.75,224.73" fill="none" stroke="#6fdc3c" stroke-width="1.5" stroke-linejoin="round" />
<polyline points="34.35,223.08 34.85,223.07 35.35,223.05 35.85,223.03 36.36,223.01 36.86,223.00 37.36,222.98 37.86,222.96 38.36,222.94 38.86,222.92 39.36,222.90 39.86,222.88 40.37,222.86 40.87,222.84 41.37,222.82 41.87,222.80 42.37,222.78 42.87,222.76 43.37,222.74 43.87,222.72 44.38,222.70 44.88,222.67 45.38,222.65 45.88,222.63 46.38,222.60 46.88,222.58 47.38,222.55 47.88,222.53 48.39,222.50 48.89,222.48 49.39,222.45 49.89,222.43 50.39,222.40 50.89,222.37 51.39,222.34 51.89,222.31 52.40,222.29 52.90,222.26 53.40,222.23 53.90,222.20 54.40,222.16 54.90,222.13 55.40,222.10 55.90,222.07 56.41,222.04 56.91,222.00 57.41,221.97 57.91,221.93 58.41,221.90 58.91,221.86 59.41,221.82 59.91,221.78 60.42,221.75 60.92,221.71 61.42,221.67 61.92,221.63 62.42,221.58 62.92,221.54 63.42,221.50 63.92,221.45 64.43,221.41 64.93,221.36 65.43,221.32 65.93,221.27 66.43,221.22 66.93,221.17 67.43,221.12 67.93,221.07 68.44,221.01 68.94,220.96 69.44,220.91 69.94,220.85 70.44,220.79 70.94,220.73 71.44,220.67 71.94,220.61 72.45,220.55 72.95,220.48 73.45,220.42 73.95,220.35 74.45,220.28 74.95,220.21 75.45,220.14 75.95,220.07 76.46,219.99 76.96,219.92 77.46,219.84 77.96,219.76 78.46,219.67 78.96,219.59 79.46,219.50 79.96,219.41 80.47,219.32 80.97,219.23 81.47,219.13 81.97,219.04 82.47,218.94 82.97,218.83 83.47,218.73 83.97,218.62 84.48,218.51 84.98,218.40 85.48,218.28 85.98,218.16 86.48,218.03 86.98,217.91 87.48,217.78 87.98,217.64 88.49,217.51 88.99,217.37 89.49,217.22 89.99,217.07 90.49,216.92 90.99,216.76 91.49,216.60 91.99,216.43 92.50,216.25 93.00,216.08 93.50,215.89 94.00,215.71 94.50,215.51 95.00,215.31 95.50,215.10 96.00,214.89 96.51,214.67 97.01,214.44 97.51,214.21 98.01,213.97 98.51,213.72 99.01,213.46 99.51,213.19 100.01,212.92 100.52,212.63 101.02,212.34 101.52,212.03 102.02,211.72 102.52,211.39 103.02,211.06 103.52,210.71 104.02,210.34 104.53,209.97 105.03,209.58 105.53,209.18 106.03,208.76 106.53,208.33 107.03,207.88 107.53,207.42 108.03,206.93 108.54,206.43 109.04,205.91 109.54,205.38 110.04,204.82 110.54,204.23 111.04,203.63 111.54,203.00 112.04,202.35 112.55,201.68 113.05,200.97 113.55,200.24 114.05,199.48 114.55,198.69 115.05,197.88 115.55,197.03 116.05,196.14 116.56,195.23 117.06,194.27 117.56,193.29 118.06,192.26 118.56,191.20 119.06,190.10 119.56,188.97 120.06,187.79 120.57,186.57 121.07,185.32 121.57,184.02 122.07,182.69 122.57,181.32 123.07,179.91 123.57,178.47 124.07,176.99 124.58,175.49 125.08,173.96 125.58,172.41 126.08,170.84 126.58,169.26 127.08,167.68 127.58,166.10 128.08,164.53 128.59,162.98 129.09,161.46 129.59,159.98 130.09,158.55 130.59,157.18 131.09,155.89 131.59,154.69 132.09,153.58 132.60,152.58 133.10,151.71 133.60,150.96 134.10,150.35 134.60,149.89 135.10,149.58 135.60,149.42 136.10,149.42 136.61,149.58 137.11,149.89 137.61,150.36 138.11,150.97 138.61,151.72 139.11,152.60 139.61,153.60 140.11,154.71 140.62,155.91 141.12,157.20 141.62,158.57 142.12,160.00 142.62,161.48 143.12,163.00 143.62,164.55 144.12,166.12 144.63,167.70 145.13,169.29 145.63,170.86 146.13,172.43 146.63,173.98 147.13,175.51 147.63,177.02 148.13,178.49 148.64,179.93 149.14,181.34 149.64,182.71 150.14,184.04 150.64,185.34 151.14,186.59 151.64,187.81 152.14,188.98 152.65,190.12 153.15,191.22 153.65,192.28 154.15,193.30 154.65,194.29 155.15,195.24 155.65,196.16 156.15,197.04 156.66,197.89 157.16,198.71 157.66,199.49 158.16,200.25 158.66,200.98 159.16,201.69 159.66,202.36 160.16,203.01 160.67,203.64 161.17,204.24 161.67,204.82 162.17,205.38 162.67,205.92 163.17,206.44 163.67,206.94 164.17,207.42 164.68,207.89 165.18,208.34 165.68,208.77 166.18,209.19 166.68,209.59 167.18,209.98 167.68,210.35 168.18,210.71 168.69,211.06 169.19,211.40 169.69,211.72 170.19,212.04 170.69,212.34 171.19,212.64 171.69,212.92 172.19,213.20 172.70,213.46 173.20,213.72 173.70,213.97 174.20,214.21 174.70,214.45 175.20,214.67 175.70,214.89 176.20,215.11 176.71,215.31 177.21,215.51 177.71,215.71 178.21,215.90 178.71,216.08 179.21,216.26 179.71,216.43 180.21,216.60 180.72,216.76 181.22,216.92 181.72,217.07 182.22,217.22 182.72,217.37 183.22,217.51 183.72,217.65 184.22,217.78 184.73,217.91 185.23,218.04 185.73,218.16 186.23,218.28 186.73,218.40 187.23,218.51 187.73,218.62 188.23,218.73 188.74,218.84 189.24,218.94 189.74,219.04 190.24,219.14 190.74,219.23 191.24,219.32 191.74,219.42 192.24,219.50 192.75,219.59 193.25,219.68 193.75,219.76 194.25,219.84 194.75,219.92 195.25,219.99 195.75,220.07 196.25,220.14 196.76,220.21 197.26,220.28 197.76,220.35 198.26,220.42 198.76,220.48 199.26,220.55 199.76,220.61 200.26,220.67 200.77,220.73 201.27,220.79 201.77,220.85 202.27,220.91 202.77,220.96 203.27,221.02 203.77,221.07 204.27,221.12 204.78,221.17 205.28,221.22 205.78,221.27 206.28,221.32 206.78,221.36 207.28,221.41 207.78,221.45 208.28,221.50 208.79,221.54 209.29,221.58 209.79,221.63 210.29,221.67 210.79,221.71 211.29,221.75 211.79,221.78 212.29,221.82 212.80,221.86 213.30,221.90 213.80,221.93 214.30,221.97 214.80,222.00 215.30,222.04 215.80,222.07 216.30,222.10 216.81,222.13 217.31,222.17 217.81,222.20 218.31,222.23 218.81,222.26 219.31,222.29 219.81,222.32 220.31,222.34 220.82,222.37 221.32,222.40 221.82,222.43 222.32,222.45 222.82,222.48 223.32,222.50 223.82,222.53 224.32,222.55 224.83,222.58 225.33,222.60 225.83,222.63 226.33,222.65 226.83,222.67 227.33,222.70 227.83,222.72 228.33,222.74 228.84,222.76 229.34,222.78 229.84,222.80 230.34,222.82 230.84,222.84 231.34,222.86 231.84,222.88 232.34,222.90 232.85,222.92 233.35,222.94 233.85,222.96 234.35,222.98" fill="none" stroke="#6fdc3c" stroke-width="1.5" stroke-linejoin="round" />
<polyline points="33.75,223.09 34.25,223.10 34.75,223.29 35.25,223.51 35.76,223.26 36.26,223.93 36.76,224.08 37.26,223.44 37.76,223.52 38.26,223.20 38.76,222.93 39.26,223.10 39.77,223.14 40.27,222.80 40.77,223.09 41.27,222.82 41.77,222.30 42.27,222.54 42.77,222.19 43.27,222.03 43.78,221.91 44.28,222.05 44.78,221.97 45.28,222.13 45.78,222.34 46.28,222.37 46.78,222.26 47.28,221.85 47.79,221.83 48.29,221.75 48.79,221.55 49.29,221.69 49.79,222.21 50.29,222.69 50.79,222.94 51.29,223.06 51.80,222.77 52.30,222.73 52.80,222.54 53.30,222.41 53.80,222.44 54.30,222.93 54.80,222.86 55.30,222.92 55.81,222.75 56.31,222.80 56.81,222.55 57.31,222.37 57.81,222.39 58.31,222.12 58.81,222.39 59.31,222.28 59.82,222.41 60.32,222.13 60.82,222.15 61.32,222.17 61.82,222.08 62.32,221.52 62.82,221.34 63.32,221.28 63.83,221.26 64.33,221.33 64.83,221.79 65.33,221.68 65.83,221.78 66.33,221.39 66.83,221.70 67.33,221.28 67.84,221.59 68.34,221.53 68.84,221.08 69.34,220.61 69.84,220.65 70.34,219.92 70.84,219.93 71.34,220.22 71.85,220.06 72.35,219.75 72.85,220.56 73.35,220.41 73.85,220.45 74.35,220.81 74.85,220.92 75.35,220.69 75.86,220.50 76.36,220.18 76.86,219.76 77.36,219.79 77.86,219.78 78.36,219.78 78.86,219.67 79.36,219.54 79.87,219.52 80.37,218.97 80.87,218.73 81.37,218.65 81.87,218.49 82.37,218.28 82.87,218.24 83.37,218.70 83.88,218.91 84.38,219.02 84.88,218.92 85.38,219.44 85.88,218.93 86.38,218.48 86.88,218.31 87.38,218.26 87.89,217.94 88.39,217.72 88.89,218.08 89.39,217.66 89.89,217.59 90.39,216.88 90.89,217.13 91.39,216.41 91.90,216.42 92.40,216.30 92.90,216.63 93.40,215.77 93.90,215.57 94.40,215.06 94.90,214.67 95.40,214.15 95.91,214.10 96.41,213.80 96.91,213.79 97.41,213.34 97.91,213.24 98.41,213.40 98.91,212.85 99.41,212.64 99.92,212.42 100.42,212.12 100.92,211.25 101.42,211.34 101.92,210.80 102.42,210.72 102.92,210.27 103.42,210.09 103.93,209.83 104.43,209.62 104.93,208.70 105.43,208.40 105.93,208.07 106.43,207.50 106.93,207.31 107.43,207.46 107.94,206.57 108.44,205.80 108.94,205.65 109.44,205.19 109.94,204.16 110.44,203.53 110.94,202.93 111.44,201.81 111.95,200.44 112.45,199.91 112.95,199.15 113.45,198.26 113.95,197.79 114.45,197.17 114.95,196.30 115.45,195.85 115.96,195.39 116.46,194.15 116.96,193.32 117.46,192.12 117.96,191.31 118.46,190.17 118.96,188.85 119.46,187.66 119.97,186.79 120.47,185.24 120.97,184.20 121.47,183.43 121.97,181.93 122.47,180.33 122.97,178.48 123.47,176.64 123.98,174.85 124.48,174.05 124.98,172.54 125.48,170.77 125.98,168.97 126.48,167.37 126.98,164.88 127.48,163.08 127.99,161.91 128.49,160.61 128.99,159.06 129.49,157.70 129.99,156.71 130.49,155.36 130.99,153.95 131.49,152.55 132.00,151.56 132.50,150.64 133.00,149.63 133.50,149.11 134.00,149.11 134.50,148.87 135.00,148.60 135.50,148.70 136.01,149.15 136.51,149.53 137.01,150.12 137.51,150.25 138.01,150.99 138.51,151.77 139.01,152.88 139.51,153.98 140.02,155.84 140.52,157.20 141.02,158.27 141.52,159.28 142.02,160.75 142.52,161.60 143.02,163.46 143.52,165.34 144.03,166.62 144.53,167.75 145.03,169.71 145.53,170.87 146.03,171.52 146.53,173.45 147.03,175.24 147.53,176.47 148.04,178.48 148.54,180.41 149.04,181.36 149.54,182.61 150.04,183.71 150.54,184.24 151.04,185.45 151.54,186.60 152.05,187.55 152.55,189.20 153.05,190.56 153.55,191.62 154.05,192.79 154.55,193.90 155.05,194.71 155.55,195.34 156.06,196.39 156.56,196.83 157.06,197.42 157.56,197.50 158.06,198.15 158.56,198.53 159.06,199.76 159.56,200.33 160.07,201.29 160.57,201.91 161.07,202.24 161.57,202.24 162.07,202.99 162.57,203.16 163.07,203.82 163.57,204.54 164.08,205.19 164.58,205.45 165.08,206.03 165.58,206.92 166.08,207.08 166.58,208.04 167.08,208.85 167.58,209.51 168.09,209.23 168.59,210.18 169.09,210.60 169.59,210.63 170.09,211.00 170.59,211.86 171.09,212.04 171.59,212.43 172.10,212.82 172.60,213.32 173.10,213.09 173.60,213.78 174.10,213.43 174.60,213.32 175.10,213.43 175.60,213.93 176.11,214.13 176.61,214.45 177.11,215.18 177.61,215.56 178.11,216.17 178.61,215.92 179.11,216.44 179.61,216.75 180.12,216.73 180.62,216.57 181.12,216.77 181.62,216.49 182.12,216.81 182.62,216.72 183.12,217.13 183.62,217.49 184.13,217.83 184.63,217.52 185.13,217.92 185.63,217.90 186.13,217.98 186.63,218.19 187.13,218.72 187.63,218.76 188.14,218.83 188.64,218.41 189.14,218.63 189.64,218.55 190.14,218.69 190.64,219.00 191.14,219.62 191.64,218.90 192.15,218.96 192.65,218.82 193.15,218.89 193.65,219.39 194.15,220.00 194.65,220.09 195.15,220.45 195.65,220.37 196.16,220.02 196.66,220.51 197.16,220.34 197.66,220.83 198.16,220.61 198.66,220.60 199.16,220.63 199.66,221.09 200.17,220.58 200.67,220.70 201.17,220.59 201.67,220.37 202.17,220.53 202.67,220.51 203.17,220.83 203.67,221.13 204.18,221.33 204.68,221.23 205.18,221.92 205.68,221.98 206.18,222.08 206.68,222.13 207.18,222.49 207.68,221.75 208.19,221.98 208.69,221.77 209.19,221.62 209.69,221.03 210.19,221.08 210.69,220.74 211.19,220.69 211.69,220.90 212.20,220.83 212.70,221.62 213.20,221.81 213.70,221.95 214.20,221.71 214.70,221.90 215.20,221.35 215.70,221.20 216.21,221.29 216.71,221.45 217.21,221.34 217.71,221.57 218.21,221.52 218.71,221.59 219.21,222.08 219.71,222.58 220.22,222.60 220.72,222.46 221.22,222.13 221.72,221.34 222.22,221.39 222.72,221.32 223.22,221.73 223.72,221.94 224.23,222.37 224.73,222.55 225.23,222.60 225.73,222.53 226.23,222.51 226.73,222.71 227.23,222.18 227.73,222.10 228.24,221.88 228.74,221.77 229.24,221.70 229.74,222.54 230.24,222.60 230.74,223.15 231.24,223.55 231.74,223.21 232.25,222.58 232.75,222.78 233.25,222.42 233.75,222.82" fill="none" stroke="#161616" stroke-width="1.6" stroke-linejoin="round" />
<polyline points="33.75,223.06 34.25,223.04 34.75,223.02 35.25,223.00 35.76,222.99 36.26,222.97 36.76,222.95 37.26,222.93 37.76,222.91 38.26,222.89 38.76,222.88 39.26,222.86 39.77,222.84 40.27,222.82 40.77,222.80 41.27,222.77 41.77,222.75 42.27,222.73 42.77,222.71 43.27,222.69 43.78,222.67 44.28,222.64 44.78,222.62 45.28,222.60 45.78,222.57 46.28,222.55 46.78,222.52 47.28,222.50 47.79,222.47 48.29,222.45 48.79,222.42 49.29,222.39 49.79,222.36 50.29,222.34 50.79,222.31 51.29,222.28 51.80,222.25 52.30,222.22 52.80,222.19 53.30,222.16 53.80,222.13 54.30,222.10 54.80,222.06 55.30,222.03 55.81,222.00 56.31,221.96 56.81,221.93 57.31,221.89 57.81,221.86 58.31,221.82 58.81,221.78 59.31,221.74 59.82,221.70 60.32,221.66 60.82,221.62 61.32,221.58 61.82,221.54 62.32,221.50 62.82,221.45 63.32,221.41 63.83,221.36 64.33,221.32 64.83,221.27 65.33,221.22 65.83,221.17 66.33,221.12 66.83,221.07 67.33,221.02 67.84,220.97 68.34,220.91 68.84,220.86 69.34,220.80 69.84,220.74 70.34,220.68 70.84,220.62 71.34,220.56 71.85,220.50 72.35,220.43 72.85,220.36 73.35,220.30 73.85,220.23 74.35,220.16 74.85,220.08 75.35,220.01 75.86,219.93 76.36,219.86 76.86,219.78 77.36,219.70 77.86,219.61 78.36,219.53 78.86,219.44 79.36,219.35 79.87,219.26 80.37,219.17 80.87,219.07 81.37,218.97 81.87,218.87 82.37,218.77 82.87,218.66 83.37,218.55 83.88,218.44 84.38,218.32 84.88,218.21 85.38,218.08 85.88,217.96 86.38,217.83 86.88,217.70 87.38,217.57 87.89,217.43 88.39,217.29 88.89,217.14 89.39,216.99 89.89,216.83 90.39,216.67 90.89,216.51 91.39,216.34 91.90,216.17 92.40,215.99 92.90,215.80 93.40,215.61 93.90,215.42 94.40,215.22 94.90,215.01 95.40,214.79 95.91,214.57 96.41,214.34 96.91,214.11 97.41,213.86 97.91,213.61 98.41,213.35 98.91,213.08 99.41,212.81 99.92,212.52 100.42,212.22 100.92,211.92 101.42,211.60 101.92,211.27 102.42,210.93 102.92,210.58 103.42,210.22 103.93,209.84 104.43,209.45 104.93,209.05 105.43,208.63 105.93,208.19 106.43,207.74 106.93,207.27 107.43,206.79 107.94,206.29 108.44,205.76 108.94,205.22 109.44,204.66 109.94,204.07 110.44,203.47 110.94,202.84 111.44,202.18 111.95,201.50 112.45,200.80 112.95,200.06 113.45,199.30 113.95,198.51 114.45,197.68 114.95,196.83 115.45,195.94 115.96,195.02 116.46,194.07 116.96,193.07 117.46,192.05 117.96,190.98 118.46,189.88 118.96,188.73 119.46,187.55 119.97,186.33 120.47,185.07 120.97,183.76 121.47,182.43 121.97,181.05 122.47,179.63 122.97,178.18 123.47,176.70 123.98,175.19 124.48,173.65 124.98,172.10 125.48,170.52 125.98,168.93 126.48,167.34 126.98,165.75 127.48,164.17 127.99,162.61 128.49,161.08 128.99,159.59 129.49,158.15 129.99,156.77 130.49,155.47 130.99,154.25 131.49,153.13 132.00,152.12 132.50,151.23 133.00,150.46 133.50,149.84 134.00,149.36 134.50,149.03 135.00,148.86 135.50,148.84 136.01,148.98 136.51,149.27 137.01,149.71 137.51,150.30 138.01,151.03 138.51,151.88 139.01,152.85 139.51,153.93 140.02,155.11 140.52,156.37 141.02,157.71 141.52,159.10 142.02,160.55 142.52,162.03 143.02,163.55 143.52,165.08 144.03,166.61 144.53,168.15 145.03,169.69 145.53,171.21 146.03,172.71 146.53,174.18 147.03,175.63 147.53,177.05 148.04,178.43 148.54,179.78 149.04,181.09 149.54,182.36 150.04,183.59 150.54,184.77 151.04,185.92 151.54,187.03 152.05,188.10 152.55,189.13 153.05,190.13 153.55,191.09 154.05,192.01 154.55,192.90 155.05,193.77 155.55,194.60 156.06,195.40 156.56,196.18 157.06,196.94 157.56,197.68 158.06,198.39 158.56,199.09 159.06,199.76 159.56,200.42 160.07,201.07 160.57,201.70 161.07,202.31 161.57,202.91 162.07,203.49 162.57,204.06 163.07,204.62 163.57,205.16 164.08,205.69 164.58,206.20 165.08,206.70 165.58,207.18 166.08,207.65 166.58,208.11 167.08,208.55 167.58,208.98 168.09,209.39 168.59,209.79 169.09,210.18 169.59,210.55 170.09,210.92 170.59,211.27 171.09,211.60 171.59,211.93 172.10,212.25 172.60,212.55 173.10,212.85 173.60,213.13 174.10,213.41 174.60,213.68 175.10,213.93 175.60,214.18 176.11,214.43 176.61,214.66 177.11,214.88 177.61,215.10 178.11,215.31 178.61,215.52 179.11,215.72 179.61,215.91 180.12,216.10 180.62,216.28 181.12,216.45 181.62,216.62 182.12,216.79 182.62,216.95 183.12,217.10 183.62,217.26 184.13,217.40 184.63,217.54 185.13,217.68 185.63,217.82 186.13,217.95 186.63,218.08 187.13,218.20 187.63,218.32 188.14,218.44 188.64,218.55 189.14,218.66 189.64,218.77 190.14,218.88 190.64,218.98 191.14,219.08 191.64,219.18 192.15,219.27 192.65,219.36 193.15,219.45 193.65,219.54 194.15,219.63 194.65,219.71 195.15,219.79 195.65,219.87 196.16,219.95 196.66,220.03 197.16,220.10 197.66,220.18 198.16,220.25 198.66,220.32 199.16,220.38 199.66,220.45 200.17,220.52 200.67,220.58 201.17,220.64 201.67,220.70 202.17,220.76 202.67,220.82 203.17,220.88 203.67,220.93 204.18,220.99 204.68,221.04 205.18,221.09 205.68,221.14 206.18,221.19 206.68,221.24 207.18,221.29 207.68,221.34 208.19,221.39 208.69,221.43 209.19,221.48 209.69,221.52 210.19,221.56 210.69,221.60 211.19,221.64 211.69,221.69 212.20,221.72 212.70,221.76 213.20,221.80 213.70,221.84 214.20,221.88 214.70,221.91 215.20,221.95 215.70,221.98 216.21,222.02 216.71,222.05 217.21,222.08 217.71,222.11 218.21,222.15 218.71,222.18 219.21,222.21 219.71,222.24 220.22,222.27 220.72,222.30 221.22,222.33 221.72,222.35 222.22,222.38 222.72,222.41 223.22,222.44 223.72,222.46 224.23,222.49 224.73,222.51 225.23,222.54 225.73,222.56 226.23,222.59 226.73,222.61 227.23,222.63 227.73,222.66 228.24,222.68 228.74,222.70 229.24,222.72 229.74,222.75 230.24,222.77 230.74,222.79 231.24,222.81 231.74,222.83 232.25,222.85 232.75,222.87 233.25,222.89 233.75,222.91" fill="none" stroke="#c41c1c" stroke-width="1.4" stroke-linejoin="round" />
<line x1="144" y1="146.3" x2="170" y2="146.3" stroke="#161616" stroke-width="1.4"/>
<text x="173.7" y="150" font-size="10.9" text-anchor="start" font-weight="normal" fill="#1c1c1c" >with PMMA</text>
<text x="29.2" y="154.5" font-size="14" text-anchor="start" font-weight="normal" fill="#1c1c1c" >(b)</text>
<text x="24.6" y="170.9" font-size="13" text-anchor="start" fill="#1c1c1c">1581.2(0.2) cm<tspan font-size="6.50" dx="-0.39" dy="-7.80">-<tspan dx="0.52">1</tspan></tspan></text>
<text x="24.6" y="189.9" font-size="13" text-anchor="start" fill="#1c1c1c">12.4 (0.2)cm<tspan font-size="6.50" dx="-0.39" dy="-7.80">-<tspan dx="0.52">1</tspan></tspan></text>
<text x="26.6" y="207.5" font-size="13.4" text-anchor="start" fill="#1c1c1c"><tspan font-family="Liberation Serif" font-size="12.8">&#916;&#965;</tspan>=8.7 cm<tspan font-size="6.70" dx="-0.40" dy="-8.04">-<tspan dx="0.54">1</tspan></tspan></text>
<text x="165" y="180" font-size="13" text-anchor="start" fill="#1c1c1c">1590(2) cm<tspan font-size="6.50" dx="-0.39" dy="-7.80">-<tspan dx="0.52">1</tspan></tspan></text>
<text x="165" y="198.3" font-size="13" text-anchor="start" fill="#1c1c1c">10.0(4) cm<tspan font-size="6.50" dx="-0.39" dy="-7.80">-<tspan dx="0.52">1</tspan></tspan></text>
<rect x="285.9" y="137.9" width="232.0" height="91.9" fill="none" stroke="#1a1a1a" stroke-width="1.6"/>
<line x1="298.75" y1="229.8" x2="298.75" y2="225.3" stroke="#222" stroke-width="1.3"/><line x1="350.35" y1="229.8" x2="350.35" y2="225.3" stroke="#222" stroke-width="1.3"/><line x1="401.95" y1="229.8" x2="401.95" y2="225.3" stroke="#222" stroke-width="1.3"/><line x1="453.55" y1="229.8" x2="453.55" y2="225.3" stroke="#222" stroke-width="1.3"/><line x1="505.15" y1="229.8" x2="505.15" y2="225.3" stroke="#222" stroke-width="1.3"/><line x1="324.55" y1="229.8" x2="324.55" y2="226.8" stroke="#222" stroke-width="1.3"/><line x1="376.15" y1="229.8" x2="376.15" y2="226.8" stroke="#222" stroke-width="1.3"/><line x1="427.75" y1="229.8" x2="427.75" y2="226.8" stroke="#222" stroke-width="1.3"/><line x1="479.35" y1="229.8" x2="479.35" y2="226.8" stroke="#222" stroke-width="1.3"/>
<text x="298.75" y="244.8" font-size="10.4" text-anchor="middle" font-weight="normal" fill="#1c1c1c" textLength="24.0" lengthAdjust="spacingAndGlyphs">1540</text><text x="350.35" y="244.8" font-size="10.4" text-anchor="middle" font-weight="normal" fill="#1c1c1c" textLength="24.0" lengthAdjust="spacingAndGlyphs">1560</text><text x="401.95" y="244.8" font-size="10.4" text-anchor="middle" font-weight="normal" fill="#1c1c1c" textLength="24.0" lengthAdjust="spacingAndGlyphs">1580</text><text x="453.55" y="244.8" font-size="10.4" text-anchor="middle" font-weight="normal" fill="#1c1c1c" textLength="24.0" lengthAdjust="spacingAndGlyphs">1600</text><text x="505.15" y="244.8" font-size="10.4" text-anchor="middle" font-weight="normal" fill="#1c1c1c" textLength="24.0" lengthAdjust="spacingAndGlyphs">1620</text>
<text x="402.4" y="256.0" font-size="11.1" text-anchor="middle" fill="#1c1c1c">Raman shift (cm<tspan font-size="5.55" dx="0.44" dy="-6.66">-<tspan dx="0.78">1</tspan></tspan><tspan dx="0.44" dy="6.66">)</tspan></text>
<text transform="translate(274.8,183.4) rotate(-90)" font-size="11.0" text-anchor="middle" fill="#1c1c1c">Intensity (arb. u.)</text>
<polyline points="298.75,221.78 299.27,221.78 299.78,221.78 300.30,221.78 300.82,221.78 301.34,221.78 301.85,221.78 302.37,221.78 302.89,221.78 303.41,221.78 303.92,221.78 304.44,221.78 304.96,221.78 305.47,221.78 305.99,221.77 306.51,221.77 307.03,221.77 307.54,221.77 308.06,221.77 308.58,221.77 309.10,221.77 309.61,221.77 310.13,221.77 310.65,221.77 311.17,221.77 311.68,221.77 312.20,221.77 312.72,221.77 313.23,221.77 313.75,221.77 314.27,221.77 314.79,221.77 315.30,221.77 315.82,221.77 316.34,221.77 316.86,221.77 317.37,221.77 317.89,221.77 318.41,221.77 318.92,221.77 319.44,221.77 319.96,221.77 320.48,221.77 320.99,221.77 321.51,221.77 322.03,221.77 322.55,221.77 323.06,221.77 323.58,221.76 324.10,221.76 324.61,221.76 325.13,221.76 325.65,221.76 326.17,221.76 326.68,221.76 327.20,221.76 327.72,221.76 328.24,221.76 328.75,221.76 329.27,221.76 329.79,221.76 330.30,221.76 330.82,221.76 331.34,221.76 331.86,221.76 332.37,221.76 332.89,221.76 333.41,221.76 333.93,221.76 334.44,221.76 334.96,221.75 335.48,221.75 336.00,221.75 336.51,221.75 337.03,221.75 337.55,221.75 338.06,221.75 338.58,221.75 339.10,221.75 339.62,221.75 340.13,221.75 340.65,221.75 341.17,221.75 341.69,221.75 342.20,221.75 342.72,221.75 343.24,221.74 343.75,221.74 344.27,221.74 344.79,221.74 345.31,221.74 345.82,221.74 346.34,221.74 346.86,221.74 347.38,221.74 347.89,221.74 348.41,221.74 348.93,221.74 349.44,221.74 349.96,221.73 350.48,221.73 351.00,221.73 351.51,221.73 352.03,221.73 352.55,221.73 353.07,221.73 353.58,221.73 354.10,221.73 354.62,221.72 355.13,221.72 355.65,221.72 356.17,221.72 356.69,221.72 357.20,221.72 357.72,221.72 358.24,221.72 358.76,221.71 359.27,221.71 359.79,221.71 360.31,221.71 360.83,221.71 361.34,221.71 361.86,221.71 362.38,221.70 362.89,221.70 363.41,221.70 363.93,221.70 364.45,221.70 364.96,221.69 365.48,221.69 366.00,221.69 366.52,221.69 367.03,221.69 367.55,221.68 368.07,221.68 368.58,221.68 369.10,221.68 369.62,221.68 370.14,221.67 370.65,221.67 371.17,221.67 371.69,221.67 372.21,221.66 372.72,221.66 373.24,221.66 373.76,221.65 374.27,221.65 374.79,221.65 375.31,221.64 375.83,221.64 376.34,221.64 376.86,221.63 377.38,221.63 377.90,221.63 378.41,221.62 378.93,221.62 379.45,221.61 379.97,221.61 380.48,221.60 381.00,221.60 381.52,221.59 382.03,221.59 382.55,221.58 383.07,221.58 383.59,221.57 384.10,221.57 384.62,221.56 385.14,221.55 385.66,221.55 386.17,221.54 386.69,221.53 387.21,221.52 387.72,221.52 388.24,221.51 388.76,221.50 389.28,221.49 389.79,221.48 390.31,221.47 390.83,221.46 391.35,221.45 391.86,221.44 392.38,221.43 392.90,221.41 393.41,221.40 393.93,221.39 394.45,221.37 394.97,221.36 395.48,221.34 396.00,221.33 396.52,221.31 397.04,221.29 397.55,221.27 398.07,221.25 398.59,221.23 399.10,221.21 399.62,221.19 400.14,221.16 400.66,221.14 401.17,221.11 401.69,221.08 402.21,221.05 402.73,221.02 403.24,220.99 403.76,220.95 404.28,220.91 404.80,220.87 405.31,220.83 405.83,220.79 406.35,220.74 406.86,220.69 407.38,220.64 407.90,220.59 408.42,220.53 408.93,220.48 409.45,220.41 409.97,220.35 410.49,220.29 411.00,220.22 411.52,220.15 412.04,220.08 412.55,220.01 413.07,219.93 413.59,219.86 414.11,219.79 414.62,219.72 415.14,219.65 415.66,219.58 416.18,219.52 416.69,219.47 417.21,219.42 417.73,219.38 418.24,219.34 418.76,219.32 419.28,219.30 419.80,219.30 420.31,219.31 420.83,219.32 421.35,219.35 421.87,219.38 422.38,219.42 422.90,219.47 423.42,219.53 423.93,219.59 424.45,219.66 424.97,219.73 425.49,219.80 426.00,219.87 426.52,219.94 427.04,220.02 427.56,220.09 428.07,220.16 428.59,220.23 429.11,220.30 429.63,220.36 430.14,220.43 430.66,220.49 431.18,220.54 431.69,220.60 432.21,220.65 432.73,220.70 433.25,220.75 433.76,220.80 434.28,220.84 434.80,220.88 435.32,220.92 435.83,220.96 436.35,220.99 436.87,221.02 437.38,221.06 437.90,221.09 438.42,221.11 438.94,221.14 439.45,221.17 439.97,221.19 440.49,221.21 441.01,221.24 441.52,221.26 442.04,221.28 442.56,221.29 443.07,221.31 443.59,221.33 444.11,221.35 444.63,221.36 445.14,221.38 445.66,221.39 446.18,221.40 446.70,221.42 447.21,221.43 447.73,221.44 448.25,221.45 448.77,221.46 449.28,221.47 449.80,221.48 450.32,221.49 450.83,221.50 451.35,221.51 451.87,221.52 452.39,221.52 452.90,221.53 453.42,221.54 453.94,221.55 454.46,221.55 454.97,221.56 455.49,221.57 456.01,221.57 456.52,221.58 457.04,221.58 457.56,221.59 458.08,221.59 458.59,221.60 459.11,221.60 459.63,221.61 460.15,221.61 460.66,221.62 461.18,221.62 461.70,221.63 462.21,221.63 462.73,221.63 463.25,221.64 463.77,221.64 464.28,221.64 464.80,221.65 465.32,221.65 465.84,221.65 466.35,221.66 466.87,221.66 467.39,221.66 467.90,221.67 468.42,221.67 468.94,221.67 469.46,221.67 469.97,221.68 470.49,221.68 471.01,221.68 471.53,221.68 472.04,221.69 472.56,221.69 473.08,221.69 473.60,221.69 474.11,221.69 474.63,221.70 475.15,221.70 475.66,221.70 476.18,221.70 476.70,221.70 477.22,221.70 477.73,221.71 478.25,221.71 478.77,221.71 479.29,221.71 479.80,221.71 480.32,221.71 480.84,221.71 481.35,221.72 481.87,221.72 482.39,221.72 482.91,221.72 483.42,221.72 483.94,221.72 484.46,221.72 484.98,221.72 485.49,221.73 486.01,221.73 486.53,221.73 487.04,221.73 487.56,221.73 488.08,221.73 488.60,221.73 489.11,221.73 489.63,221.73 490.15,221.74 490.67,221.74 491.18,221.74 491.70,221.74 492.22,221.74 492.73,221.74 493.25,221.74 493.77,221.74 494.29,221.74 494.80,221.74 495.32,221.74 495.84,221.74 496.36,221.75 496.87,221.75 497.39,221.75 497.91,221.75 498.43,221.75 498.94,221.75 499.46,221.75 499.98,221.75 500.49,221.75 501.01,221.75 501.53,221.75 502.05,221.75 502.56,221.75 503.08,221.75 503.60,221.75 504.12,221.75 504.63,221.76 505.15,221.76" fill="none" stroke="#6fdc3c" stroke-width="1.5" stroke-linejoin="round" />
<polyline points="299.35,220.09 299.87,220.07 300.38,220.06 300.90,220.04 301.42,220.02 301.94,220.00 302.45,219.98 302.97,219.97 303.49,219.95 304.01,219.93 304.52,219.91 305.04,219.89 305.56,219.87 306.07,219.85 306.59,219.83 307.11,219.81 307.63,219.79 308.14,219.76 308.66,219.74 309.18,219.72 309.70,219.70 310.21,219.67 310.73,219.65 311.25,219.63 311.77,219.60 312.28,219.58 312.80,219.55 313.32,219.53 313.83,219.50 314.35,219.48 314.87,219.45 315.39,219.42 315.90,219.40 316.42,219.37 316.94,219.34 317.46,219.31 317.97,219.28 318.49,219.25 319.01,219.22 319.52,219.19 320.04,219.16 320.56,219.12 321.08,219.09 321.59,219.06 322.11,219.02 322.63,218.99 323.15,218.95 323.66,218.92 324.18,218.88 324.70,218.84 325.21,218.81 325.73,218.77 326.25,218.73 326.77,218.69 327.28,218.65 327.80,218.60 328.32,218.56 328.84,218.52 329.35,218.47 329.87,218.43 330.39,218.38 330.90,218.33 331.42,218.28 331.94,218.24 332.46,218.19 332.97,218.13 333.49,218.08 334.01,218.03 334.53,217.97 335.04,217.92 335.56,217.86 336.08,217.80 336.60,217.74 337.11,217.68 337.63,217.62 338.15,217.56 338.66,217.49 339.18,217.42 339.70,217.36 340.22,217.29 340.73,217.21 341.25,217.14 341.77,217.07 342.29,216.99 342.80,216.91 343.32,216.83 343.84,216.75 344.35,216.67 344.87,216.58 345.39,216.49 345.91,216.40 346.42,216.31 346.94,216.21 347.46,216.11 347.98,216.01 348.49,215.91 349.01,215.81 349.53,215.70 350.04,215.59 350.56,215.47 351.08,215.36 351.60,215.24 352.11,215.11 352.63,214.99 353.15,214.86 353.67,214.72 354.18,214.58 354.70,214.44 355.22,214.30 355.73,214.15 356.25,213.99 356.77,213.83 357.29,213.67 357.80,213.50 358.32,213.33 358.84,213.15 359.36,212.97 359.87,212.78 360.39,212.58 360.91,212.38 361.43,212.17 361.94,211.96 362.46,211.74 362.98,211.51 363.49,211.27 364.01,211.03 364.53,210.78 365.05,210.51 365.56,210.25 366.08,209.97 366.60,209.68 367.12,209.38 367.63,209.07 368.15,208.76 368.67,208.43 369.18,208.08 369.70,207.73 370.22,207.36 370.74,206.98 371.25,206.59 371.77,206.18 372.29,205.76 372.81,205.32 373.32,204.86 373.84,204.39 374.36,203.90 374.87,203.39 375.39,202.86 375.91,202.31 376.43,201.74 376.94,201.15 377.46,200.53 377.98,199.89 378.50,199.23 379.01,198.53 379.53,197.82 380.05,197.07 380.57,196.29 381.08,195.49 381.60,194.65 382.12,193.78 382.63,192.88 383.15,191.94 383.67,190.97 384.19,189.96 384.70,188.91 385.22,187.82 385.74,186.70 386.26,185.54 386.77,184.34 387.29,183.10 387.81,181.82 388.32,180.50 388.84,179.14 389.36,177.75 389.88,176.33 390.39,174.87 390.91,173.38 391.43,171.87 391.95,170.33 392.46,168.78 392.98,167.22 393.50,165.66 394.01,164.10 394.53,162.55 395.05,161.02 395.57,159.52 396.08,158.07 396.60,156.66 397.12,155.32 397.64,154.06 398.15,152.89 398.67,151.81 399.19,150.85 399.70,150.00 400.22,149.29 400.74,148.72 401.26,148.30 401.77,148.02 402.29,147.90 402.81,147.94 403.33,148.14 403.84,148.49 404.36,148.99 404.88,149.63 405.40,150.41 405.91,151.31 406.43,152.33 406.95,153.46 407.46,154.68 407.98,155.98 408.50,157.36 409.02,158.79 409.53,160.26 410.05,161.78 410.57,163.32 411.09,164.87 411.60,166.44 412.12,168.00 412.64,169.56 413.15,171.10 413.67,172.62 414.19,174.12 414.71,175.60 415.22,177.04 415.74,178.45 416.26,179.82 416.78,181.16 417.29,182.46 417.81,183.72 418.33,184.94 418.84,186.12 419.36,187.27 419.88,188.37 420.40,189.44 420.91,190.46 421.43,191.46 421.95,192.41 422.47,193.33 422.98,194.22 423.50,195.07 424.02,195.89 424.53,196.68 425.05,197.45 425.57,198.18 426.09,198.88 426.60,199.56 427.12,200.21 427.64,200.84 428.16,201.45 428.67,202.03 429.19,202.59 429.71,203.13 430.23,203.65 430.74,204.15 431.26,204.63 431.78,205.09 432.29,205.54 432.81,205.97 433.33,206.39 433.85,206.79 434.36,207.17 434.88,207.55 435.40,207.91 435.92,208.26 436.43,208.59 436.95,208.92 437.47,209.23 437.98,209.53 438.50,209.82 439.02,210.11 439.54,210.38 440.05,210.65 440.57,210.90 441.09,211.15 441.61,211.39 442.12,211.62 442.64,211.85 443.16,212.07 443.67,212.28 444.19,212.48 444.71,212.68 445.23,212.87 445.74,213.06 446.26,213.24 446.78,213.42 447.30,213.59 447.81,213.75 448.33,213.91 448.85,214.07 449.37,214.22 449.88,214.37 450.40,214.51 450.92,214.65 451.43,214.79 451.95,214.92 452.47,215.05 452.99,215.18 453.50,215.30 454.02,215.42 454.54,215.53 455.06,215.64 455.57,215.75 456.09,215.86 456.61,215.96 457.12,216.07 457.64,216.16 458.16,216.26 458.68,216.35 459.19,216.45 459.71,216.54 460.23,216.62 460.75,216.71 461.26,216.79 461.78,216.87 462.30,216.95 462.81,217.03 463.33,217.10 463.85,217.18 464.37,217.25 464.88,217.32 465.40,217.39 465.92,217.46 466.44,217.52 466.95,217.59 467.47,217.65 467.99,217.71 468.50,217.77 469.02,217.83 469.54,217.89 470.06,217.95 470.57,218.00 471.09,218.05 471.61,218.11 472.13,218.16 472.64,218.21 473.16,218.26 473.68,218.31 474.20,218.36 474.71,218.40 475.23,218.45 475.75,218.49 476.26,218.54 476.78,218.58 477.30,218.62 477.82,218.67 478.33,218.71 478.85,218.75 479.37,218.79 479.89,218.82 480.40,218.86 480.92,218.90 481.44,218.94 481.95,218.97 482.47,219.01 482.99,219.04 483.51,219.07 484.02,219.11 484.54,219.14 485.06,219.17 485.58,219.20 486.09,219.23 486.61,219.27 487.13,219.29 487.64,219.32 488.16,219.35 488.68,219.38 489.20,219.41 489.71,219.44 490.23,219.46 490.75,219.49 491.27,219.52 491.78,219.54 492.30,219.57 492.82,219.59 493.33,219.62 493.85,219.64 494.37,219.66 494.89,219.69 495.40,219.71 495.92,219.73 496.44,219.75 496.96,219.78 497.47,219.80 497.99,219.82 498.51,219.84 499.03,219.86 499.54,219.88 500.06,219.90 500.58,219.92 501.09,219.94 501.61,219.96 502.13,219.97 502.65,219.99 503.16,220.01 503.68,220.03 504.20,220.05 504.72,220.06 505.23,220.08 505.75,220.10" fill="none" stroke="#6fdc3c" stroke-width="1.5" stroke-linejoin="round" />
<polyline points="298.75,219.71 299.27,220.30 299.78,220.24 300.30,220.24 300.82,220.50 301.34,220.00 301.85,220.12 302.37,220.56 302.89,220.67 303.41,220.72 303.92,220.84 304.44,220.47 304.96,219.77 305.47,219.40 305.99,219.37 306.51,219.48 307.03,219.46 307.54,219.20 308.06,219.27 308.58,219.05 309.10,219.05 309.61,218.90 310.13,219.71 310.65,219.46 311.17,219.18 311.68,219.13 312.20,219.53 312.72,219.55 313.23,219.86 313.75,219.91 314.27,219.97 314.79,219.91 315.30,219.22 315.82,219.44 316.34,219.88 316.86,219.96 317.37,219.84 317.89,220.17 318.41,220.16 318.92,219.59 319.44,219.80 319.96,219.54 320.48,219.18 320.99,218.82 321.51,218.97 322.03,218.46 322.55,218.16 323.06,218.08 323.58,218.34 324.10,218.78 324.61,219.10 325.13,219.68 325.65,219.73 326.17,219.35 326.68,218.94 327.20,218.52 327.72,218.00 328.24,218.09 328.75,217.99 329.27,217.65 329.79,217.93 330.30,218.04 330.82,218.19 331.34,218.21 331.86,218.33 332.37,218.22 332.89,218.19 333.41,217.76 333.93,217.62 334.44,217.79 334.96,217.85 335.48,218.11 336.00,217.82 336.51,217.77 337.03,217.45 337.55,217.28 338.06,216.83 338.58,217.02 339.10,217.21 339.62,217.27 340.13,216.91 340.65,217.22 341.17,217.48 341.69,217.11 342.20,217.17 342.72,217.18 343.24,217.06 343.75,216.70 344.27,216.57 344.79,216.21 345.31,216.12 345.82,215.82 346.34,215.81 346.86,215.89 347.38,215.75 347.89,215.01 348.41,214.88 348.93,214.32 349.44,214.25 349.96,214.51 350.48,215.26 351.00,215.03 351.51,215.28 352.03,215.07 352.55,214.57 353.07,214.25 353.58,213.99 354.10,214.15 354.62,214.03 355.13,214.21 355.65,214.13 356.17,214.18 356.69,213.72 357.20,213.66 357.72,213.45 358.24,213.38 358.76,213.03 359.27,212.71 359.79,212.77 360.31,212.33 360.83,212.00 361.34,212.25 361.86,212.44 362.38,211.96 362.89,211.70 363.41,212.03 363.93,211.54 364.45,211.16 364.96,210.74 365.48,210.24 366.00,209.14 366.52,208.84 367.03,208.50 367.55,208.16 368.07,207.88 368.58,207.51 369.10,207.00 369.62,206.22 370.14,206.09 370.65,206.20 371.17,206.73 371.69,206.57 372.21,206.31 372.72,205.47 373.24,203.98 373.76,202.73 374.27,201.99 374.79,201.80 375.31,201.57 375.83,201.89 376.34,201.47 376.86,201.03 377.38,200.49 377.90,199.46 378.41,198.53 378.93,197.46 379.45,196.92 379.97,196.10 380.48,195.69 381.00,194.69 381.52,194.15 382.03,192.84 382.55,191.63 383.07,190.44 383.59,189.80 384.10,188.63 384.62,187.78 385.14,186.68 385.66,185.49 386.17,184.14 386.69,182.88 387.21,181.59 387.72,180.15 388.24,178.91 388.76,177.45 389.28,175.79 389.79,174.34 390.31,172.67 390.83,171.23 391.35,169.86 391.86,168.26 392.38,166.29 392.90,164.83 393.41,162.93 393.93,161.01 394.45,160.00 394.97,158.64 395.48,157.36 396.00,156.03 396.52,155.00 397.04,153.39 397.55,152.25 398.07,151.19 398.59,150.31 399.10,149.28 399.62,148.47 400.14,147.92 400.66,147.42 401.17,147.05 401.69,146.83 402.21,147.20 402.73,147.87 403.24,148.05 403.76,148.64 404.28,149.50 404.80,149.55 405.31,149.90 405.83,150.79 406.35,152.10 406.86,153.13 407.38,154.78 407.90,156.02 408.42,157.59 408.93,158.58 409.45,160.08 409.97,161.43 410.49,162.92 411.00,164.55 411.52,166.59 412.04,168.25 412.55,170.07 413.07,171.83 413.59,173.31 414.11,174.65 414.62,176.10 415.14,177.36 415.66,178.46 416.18,179.56 416.69,180.50 417.21,181.52 417.73,182.55 418.24,183.18 418.76,184.11 419.28,184.69 419.80,185.73 420.31,186.93 420.83,188.03 421.35,189.31 421.87,190.90 422.38,191.84 422.90,193.11 423.42,194.76 423.93,195.20 424.45,196.07 424.97,196.94 425.49,197.44 426.00,197.99 426.52,198.82 427.04,199.16 427.56,199.56 428.07,199.96 428.59,200.36 429.11,200.81 429.63,201.29 430.14,202.16 430.66,202.85 431.18,203.48 431.69,203.89 432.21,204.43 432.73,204.65 433.25,205.12 433.76,205.34 434.28,206.38 434.80,206.94 435.32,207.45 435.83,207.82 436.35,208.46 436.87,208.50 437.38,209.09 437.90,209.51 438.42,209.85 438.94,210.01 439.45,210.52 439.97,210.77 440.49,211.15 441.01,211.46 441.52,211.90 442.04,212.05 442.56,212.34 443.07,212.36 443.59,212.04 444.11,212.36 444.63,212.56 445.14,212.23 445.66,212.39 446.18,212.84 446.70,213.19 447.21,213.46 447.73,213.54 448.25,213.87 448.77,214.14 449.28,214.26 449.80,214.07 450.32,214.07 450.83,214.11 451.35,214.26 451.87,213.89 452.39,213.78 452.90,214.50 453.42,214.98 453.94,214.76 454.46,215.23 454.97,215.69 455.49,216.22 456.01,216.06 456.52,216.55 457.04,216.64 457.56,216.98 458.08,216.43 458.59,216.59 459.11,216.61 459.63,216.07 460.15,216.49 460.66,216.63 461.18,216.42 461.70,216.69 462.21,216.83 462.73,216.16 463.25,216.21 463.77,216.30 464.28,216.32 464.80,216.98 465.32,217.24 465.84,217.53 466.35,217.84 466.87,217.65 467.39,217.52 467.90,217.48 468.42,217.67 468.94,217.70 469.46,218.00 469.97,217.71 470.49,218.00 471.01,217.65 471.53,217.76 472.04,217.79 472.56,217.95 473.08,218.18 473.60,218.56 474.11,218.32 474.63,218.65 475.15,218.81 475.66,218.59 476.18,218.50 476.70,218.51 477.22,218.20 477.73,218.27 478.25,218.72 478.77,219.06 479.29,219.21 479.80,219.70 480.32,219.76 480.84,219.55 481.35,219.45 481.87,219.61 482.39,219.82 482.91,219.92 483.42,219.61 483.94,219.73 484.46,219.61 484.98,219.05 485.49,218.37 486.01,218.88 486.53,218.81 487.04,219.10 487.56,219.42 488.08,220.47 488.60,220.27 489.11,220.33 489.63,220.02 490.15,219.75 490.67,219.64 491.18,219.76 491.70,219.29 492.22,219.56 492.73,219.62 493.25,219.23 493.77,219.27 494.29,219.49 494.80,219.09 495.32,218.91 495.84,219.50 496.36,219.10 496.87,219.26 497.39,219.76 497.91,220.16 498.43,219.53 498.94,219.81 499.46,219.81 499.98,219.88 500.49,219.61 501.01,219.65 501.53,219.96 502.05,220.19 502.56,220.11 503.08,220.14 503.60,220.50 504.12,220.32 504.63,220.28 505.15,219.94" fill="none" stroke="#161616" stroke-width="1.6" stroke-linejoin="round" />
<polyline points="298.75,220.07 299.27,220.05 299.78,220.03 300.30,220.01 300.82,220.00 301.34,219.98 301.85,219.96 302.37,219.94 302.89,219.92 303.41,219.90 303.92,219.88 304.44,219.86 304.96,219.84 305.47,219.82 305.99,219.80 306.51,219.78 307.03,219.76 307.54,219.74 308.06,219.72 308.58,219.69 309.10,219.67 309.61,219.65 310.13,219.62 310.65,219.60 311.17,219.58 311.68,219.55 312.20,219.53 312.72,219.50 313.23,219.47 313.75,219.45 314.27,219.42 314.79,219.39 315.30,219.37 315.82,219.34 316.34,219.31 316.86,219.28 317.37,219.25 317.89,219.22 318.41,219.19 318.92,219.16 319.44,219.12 319.96,219.09 320.48,219.06 320.99,219.02 321.51,218.99 322.03,218.95 322.55,218.92 323.06,218.88 323.58,218.85 324.10,218.81 324.61,218.77 325.13,218.73 325.65,218.69 326.17,218.65 326.68,218.61 327.20,218.57 327.72,218.52 328.24,218.48 328.75,218.43 329.27,218.39 329.79,218.34 330.30,218.29 330.82,218.24 331.34,218.19 331.86,218.14 332.37,218.09 332.89,218.04 333.41,217.98 333.93,217.93 334.44,217.87 334.96,217.81 335.48,217.76 336.00,217.70 336.51,217.63 337.03,217.57 337.55,217.51 338.06,217.44 338.58,217.37 339.10,217.31 339.62,217.24 340.13,217.16 340.65,217.09 341.17,217.01 341.69,216.94 342.20,216.86 342.72,216.78 343.24,216.69 343.75,216.61 344.27,216.52 344.79,216.43 345.31,216.34 345.82,216.25 346.34,216.15 346.86,216.05 347.38,215.95 347.89,215.85 348.41,215.74 348.93,215.63 349.44,215.52 349.96,215.41 350.48,215.29 351.00,215.17 351.51,215.04 352.03,214.92 352.55,214.79 353.07,214.65 353.58,214.51 354.10,214.37 354.62,214.22 355.13,214.07 355.65,213.92 356.17,213.76 356.69,213.59 357.20,213.42 357.72,213.25 358.24,213.07 358.76,212.88 359.27,212.69 359.79,212.49 360.31,212.29 360.83,212.08 361.34,211.86 361.86,211.64 362.38,211.41 362.89,211.17 363.41,210.93 363.93,210.67 364.45,210.41 364.96,210.14 365.48,209.86 366.00,209.57 366.52,209.27 367.03,208.96 367.55,208.64 368.07,208.31 368.58,207.96 369.10,207.61 369.62,207.24 370.14,206.86 370.65,206.46 371.17,206.05 371.69,205.62 372.21,205.18 372.72,204.72 373.24,204.25 373.76,203.75 374.27,203.24 374.79,202.71 375.31,202.15 375.83,201.58 376.34,200.98 376.86,200.36 377.38,199.72 377.90,199.05 378.41,198.36 378.93,197.63 379.45,196.88 379.97,196.10 380.48,195.29 381.00,194.45 381.52,193.57 382.03,192.67 382.55,191.72 383.07,190.74 383.59,189.73 384.10,188.67 384.62,187.58 385.14,186.45 385.66,185.28 386.17,184.08 386.69,182.83 387.21,181.54 387.72,180.21 388.24,178.85 388.76,177.45 389.28,176.01 389.79,174.55 390.31,173.05 390.83,171.53 391.35,169.98 391.86,168.42 392.38,166.85 392.90,165.27 393.41,163.70 393.93,162.13 394.45,160.59 394.97,159.08 395.48,157.61 396.00,156.19 396.52,154.83 397.04,153.55 397.55,152.36 398.07,151.26 398.59,150.28 399.10,149.41 399.62,148.68 400.14,148.08 400.66,147.63 401.17,147.33 401.69,147.19 402.21,147.19 402.73,147.36 403.24,147.67 403.76,148.14 404.28,148.74 404.80,149.48 405.31,150.34 405.83,151.32 406.35,152.40 406.86,153.57 407.38,154.83 407.90,156.15 408.42,157.52 408.93,158.94 409.45,160.39 409.97,161.87 410.49,163.36 411.00,164.86 411.52,166.35 412.04,167.84 412.55,169.31 413.07,170.76 413.59,172.18 414.11,173.58 414.62,174.96 415.14,176.30 415.66,177.61 416.18,178.88 416.69,180.13 417.21,181.34 417.73,182.52 418.24,183.67 418.76,184.79 419.28,185.88 419.80,186.94 420.31,187.97 420.83,188.98 421.35,189.96 421.87,190.91 422.38,191.84 422.90,192.75 423.42,193.63 423.93,194.48 424.45,195.30 424.97,196.11 425.49,196.88 426.00,197.63 426.52,198.36 427.04,199.06 427.56,199.74 428.07,200.39 428.59,201.02 429.11,201.62 429.63,202.21 430.14,202.77 430.66,203.31 431.18,203.84 431.69,204.34 432.21,204.82 432.73,205.29 433.25,205.74 433.76,206.17 434.28,206.59 434.80,206.99 435.32,207.37 435.83,207.75 436.35,208.11 436.87,208.45 437.38,208.79 437.90,209.11 438.42,209.42 438.94,209.72 439.45,210.01 439.97,210.29 440.49,210.56 441.01,210.83 441.52,211.08 442.04,211.32 442.56,211.56 443.07,211.79 443.59,212.01 444.11,212.23 444.63,212.43 445.14,212.64 445.66,212.83 446.18,213.02 446.70,213.20 447.21,213.38 447.73,213.55 448.25,213.72 448.77,213.88 449.28,214.04 449.80,214.20 450.32,214.34 450.83,214.49 451.35,214.63 451.87,214.77 452.39,214.90 452.90,215.03 453.42,215.16 453.94,215.28 454.46,215.40 454.97,215.51 455.49,215.63 456.01,215.74 456.52,215.84 457.04,215.95 457.56,216.05 458.08,216.15 458.59,216.24 459.11,216.34 459.63,216.43 460.15,216.52 460.66,216.61 461.18,216.69 461.70,216.78 462.21,216.86 462.73,216.94 463.25,217.01 463.77,217.09 464.28,217.16 464.80,217.24 465.32,217.31 465.84,217.38 466.35,217.44 466.87,217.51 467.39,217.57 467.90,217.64 468.42,217.70 468.94,217.76 469.46,217.82 469.97,217.88 470.49,217.93 471.01,217.99 471.53,218.04 472.04,218.10 472.56,218.15 473.08,218.20 473.60,218.25 474.11,218.30 474.63,218.34 475.15,218.39 475.66,218.44 476.18,218.48 476.70,218.53 477.22,218.57 477.73,218.61 478.25,218.65 478.77,218.69 479.29,218.73 479.80,218.77 480.32,218.81 480.84,218.85 481.35,218.89 481.87,218.92 482.39,218.96 482.91,218.99 483.42,219.03 483.94,219.06 484.46,219.10 484.98,219.13 485.49,219.16 486.01,219.19 486.53,219.22 487.04,219.25 487.56,219.28 488.08,219.31 488.60,219.34 489.11,219.37 489.63,219.40 490.15,219.43 490.67,219.45 491.18,219.48 491.70,219.50 492.22,219.53 492.73,219.56 493.25,219.58 493.77,219.60 494.29,219.63 494.80,219.65 495.32,219.67 495.84,219.70 496.36,219.72 496.87,219.74 497.39,219.76 497.91,219.79 498.43,219.81 498.94,219.83 499.46,219.85 499.98,219.87 500.49,219.89 501.01,219.91 501.53,219.93 502.05,219.95 502.56,219.96 503.08,219.98 503.60,220.00 504.12,220.02 504.63,220.04 505.15,220.05" fill="none" stroke="#c41c1c" stroke-width="1.4" stroke-linejoin="round" />
<line x1="407" y1="147" x2="433" y2="147" stroke="#161616" stroke-width="1.3"/>
<text x="435.6" y="151.5" font-size="11" text-anchor="start" font-weight="normal" fill="#1c1c1c" >without PMMA</text>
<text x="295.4" y="153.5" font-size="14" text-anchor="start" font-weight="normal" fill="#1c1c1c" >(c)</text>
<text x="290.2" y="171.9" font-size="13.1" text-anchor="start" fill="#1c1c1c">1580.6(0.2) cm<tspan font-size="6.55" dx="-0.39" dy="-7.86">-<tspan dx="0.52">1</tspan></tspan></text>
<text x="290.2" y="189.7" font-size="13.1" text-anchor="start" fill="#1c1c1c">12.3(0.2) cm<tspan font-size="6.55" dx="-0.39" dy="-7.86">-<tspan dx="0.52">1</tspan></tspan></text>
<text x="290.0" y="207.9" font-size="13.4" text-anchor="start" fill="#1c1c1c"><tspan font-family="Liberation Serif" font-size="12.8">&#916;&#965;</tspan>=6.3 cm<tspan font-size="6.70" dx="-0.40" dy="-8.04">-<tspan dx="0.54">1</tspan></tspan></text>
<text x="424" y="172.3" font-size="13.2" text-anchor="start" fill="#1c1c1c">1586.9(2) cm<tspan font-size="6.60" dx="-0.40" dy="-7.92">-<tspan dx="0.53">1</tspan></tspan></text>
<text x="426.5" y="190.2" font-size="13.2" text-anchor="start" fill="#1c1c1c">8.9(5.8) cm<tspan font-size="6.60" dx="-0.40" dy="-7.92">-<tspan dx="0.53">1</tspan></tspan></text>
<rect x="21.3" y="275.0" width="224.89999999999998" height="92.30000000000001" fill="none" stroke="#1a1a1a" stroke-width="1.6"/>
<line x1="43.75" y1="367.3" x2="43.75" y2="362.8" stroke="#222" stroke-width="1.3"/><line x1="88.75" y1="367.3" x2="88.75" y2="362.8" stroke="#222" stroke-width="1.3"/><line x1="133.75" y1="367.3" x2="133.75" y2="362.8" stroke="#222" stroke-width="1.3"/><line x1="178.75" y1="367.3" x2="178.75" y2="362.8" stroke="#222" stroke-width="1.3"/><line x1="223.75" y1="367.3" x2="223.75" y2="362.8" stroke="#222" stroke-width="1.3"/><line x1="66.25" y1="367.3" x2="66.25" y2="364.3" stroke="#222" stroke-width="1.3"/><line x1="111.25" y1="367.3" x2="111.25" y2="364.3" stroke="#222" stroke-width="1.3"/><line x1="156.25" y1="367.3" x2="156.25" y2="364.3" stroke="#222" stroke-width="1.3"/><line x1="201.25" y1="367.3" x2="201.25" y2="364.3" stroke="#222" stroke-width="1.3"/>
<text x="43.75" y="380.8" font-size="9.3" text-anchor="middle" font-weight="normal" fill="#1c1c1c" textLength="21.4" lengthAdjust="spacingAndGlyphs">2600</text><text x="88.75" y="380.8" font-size="9.3" text-anchor="middle" font-weight="normal" fill="#1c1c1c" textLength="21.4" lengthAdjust="spacingAndGlyphs">2650</text><text x="133.75" y="380.8" font-size="9.3" text-anchor="middle" font-weight="normal" fill="#1c1c1c" textLength="21.4" lengthAdjust="spacingAndGlyphs">2700</text><text x="178.75" y="380.8" font-size="9.3" text-anchor="middle" font-weight="normal" fill="#1c1c1c" textLength="21.4" lengthAdjust="spacingAndGlyphs">2750</text><text x="223.75" y="380.8" font-size="9.3" text-anchor="middle" font-weight="normal" fill="#1c1c1c" textLength="21.4" lengthAdjust="spacingAndGlyphs">2800</text>
<text x="133.9" y="393.3" font-size="9.8" text-anchor="middle" fill="#1c1c1c">Raman shift (cm<tspan font-size="4.90" dx="0.39" dy="-5.88">-<tspan dx="0.69">1</tspan></tspan><tspan dx="0.39" dy="5.88">)</tspan></text>
<text transform="translate(10.2,319.4) rotate(-90)" font-size="10.9" text-anchor="middle" fill="#1c1c1c">Intensity (arb. u.)</text>
<polyline points="43.75,361.00 44.18,360.97 44.61,360.93 45.04,360.90 45.47,360.87 45.90,360.83 46.33,360.80 46.76,360.76 47.19,360.72 47.62,360.69 48.05,360.65 48.48,360.61 48.91,360.57 49.33,360.54 49.76,360.50 50.19,360.46 50.62,360.42 51.05,360.37 51.48,360.33 51.91,360.29 52.34,360.25 52.77,360.21 53.20,360.16 53.63,360.12 54.06,360.07 54.49,360.03 54.92,359.98 55.35,359.93 55.78,359.88 56.21,359.83 56.64,359.79 57.07,359.73 57.50,359.68 57.93,359.63 58.36,359.58 58.79,359.53 59.22,359.47 59.64,359.42 60.07,359.36 60.50,359.30 60.93,359.25 61.36,359.19 61.79,359.13 62.22,359.07 62.65,359.01 63.08,358.95 63.51,358.88 63.94,358.82 64.37,358.75 64.80,358.69 65.23,358.62 65.66,358.55 66.09,358.48 66.52,358.41 66.95,358.34 67.38,358.26 67.81,358.19 68.24,358.11 68.67,358.04 69.10,357.96 69.53,357.88 69.96,357.80 70.38,357.72 70.81,357.63 71.24,357.55 71.67,357.46 72.10,357.37 72.53,357.28 72.96,357.19 73.39,357.10 73.82,357.00 74.25,356.91 74.68,356.81 75.11,356.71 75.54,356.61 75.97,356.50 76.40,356.40 76.83,356.29 77.26,356.18 77.69,356.07 78.12,355.96 78.55,355.84 78.98,355.73 79.41,355.61 79.84,355.48 80.27,355.36 80.70,355.23 81.12,355.10 81.55,354.97 81.98,354.84 82.41,354.70 82.84,354.56 83.27,354.42 83.70,354.28 84.13,354.13 84.56,353.98 84.99,353.83 85.42,353.67 85.85,353.51 86.28,353.35 86.71,353.19 87.14,353.02 87.57,352.85 88.00,352.67 88.43,352.49 88.86,352.31 89.29,352.12 89.72,351.93 90.15,351.74 90.58,351.54 91.01,351.34 91.43,351.14 91.86,350.93 92.29,350.71 92.72,350.49 93.15,350.27 93.58,350.05 94.01,349.81 94.44,349.58 94.87,349.34 95.30,349.09 95.73,348.84 96.16,348.58 96.59,348.32 97.02,348.06 97.45,347.78 97.88,347.51 98.31,347.22 98.74,346.94 99.17,346.64 99.60,346.34 100.03,346.04 100.46,345.72 100.89,345.41 101.32,345.08 101.75,344.75 102.17,344.41 102.60,344.07 103.03,343.72 103.46,343.37 103.89,343.00 104.32,342.63 104.75,342.26 105.18,341.88 105.61,341.49 106.04,341.09 106.47,340.69 106.90,340.28 107.33,339.86 107.76,339.44 108.19,339.01 108.62,338.57 109.05,338.13 109.48,337.68 109.91,337.23 110.34,336.77 110.77,336.30 111.20,335.83 111.63,335.35 112.06,334.87 112.49,334.38 112.91,333.89 113.34,333.40 113.77,332.90 114.20,332.39 114.63,331.89 115.06,331.38 115.49,330.87 115.92,330.35 116.35,329.84 116.78,329.33 117.21,328.82 117.64,328.30 118.07,327.80 118.50,327.29 118.93,326.79 119.36,326.29 119.79,325.79 120.22,325.31 120.65,324.83 121.08,324.36 121.51,323.90 121.94,323.44 122.37,323.00 122.80,322.58 123.22,322.16 123.65,321.76 124.08,321.38 124.51,321.01 124.94,320.66 125.37,320.33 125.80,320.02 126.23,319.73 126.66,319.46 127.09,319.21 127.52,318.99 127.95,318.79 128.38,318.61 128.81,318.46 129.24,318.34 129.67,318.24 130.10,318.17 130.53,318.12 130.96,318.10 131.39,318.11 131.82,318.14 132.25,318.20 132.68,318.29 133.11,318.41 133.54,318.54 133.96,318.71 134.39,318.90 134.82,319.11 135.25,319.35 135.68,319.61 136.11,319.89 136.54,320.19 136.97,320.52 137.40,320.86 137.83,321.22 138.26,321.60 138.69,321.99 139.12,322.40 139.55,322.82 139.98,323.25 140.41,323.70 140.84,324.16 141.27,324.63 141.70,325.10 142.13,325.58 142.56,326.08 142.99,326.57 143.42,327.07 143.85,327.58 144.28,328.09 144.70,328.60 145.13,329.11 145.56,329.62 145.99,330.13 146.42,330.65 146.85,331.16 147.28,331.67 147.71,332.17 148.14,332.68 148.57,333.18 149.00,333.68 149.43,334.17 149.86,334.66 150.29,335.15 150.72,335.63 151.15,336.10 151.58,336.57 152.01,337.03 152.44,337.49 152.87,337.94 153.30,338.39 153.73,338.82 154.16,339.26 154.59,339.68 155.01,340.10 155.44,340.51 155.87,340.92 156.30,341.32 156.73,341.71 157.16,342.09 157.59,342.47 158.02,342.85 158.45,343.21 158.88,343.57 159.31,343.92 159.74,344.27 160.17,344.61 160.60,344.94 161.03,345.27 161.46,345.59 161.89,345.90 162.32,346.21 162.75,346.51 163.18,346.81 163.61,347.10 164.04,347.39 164.47,347.67 164.90,347.94 165.33,348.21 165.75,348.47 166.18,348.73 166.61,348.98 167.04,349.23 167.47,349.47 167.90,349.71 168.33,349.95 168.76,350.18 169.19,350.40 169.62,350.62 170.05,350.84 170.48,351.05 170.91,351.25 171.34,351.46 171.77,351.66 172.20,351.85 172.63,352.04 173.06,352.23 173.49,352.41 173.92,352.59 174.35,352.77 174.78,352.94 175.21,353.11 175.64,353.28 176.07,353.44 176.49,353.60 176.92,353.76 177.35,353.92 177.78,354.07 178.21,354.22 178.64,354.36 179.07,354.50 179.50,354.64 179.93,354.78 180.36,354.92 180.79,355.05 181.22,355.18 181.65,355.31 182.08,355.43 182.51,355.55 182.94,355.67 183.37,355.79 183.80,355.91 184.23,356.02 184.66,356.13 185.09,356.24 185.52,356.35 185.95,356.46 186.38,356.56 186.80,356.67 187.23,356.77 187.66,356.86 188.09,356.96 188.52,357.06 188.95,357.15 189.38,357.24 189.81,357.33 190.24,357.42 190.67,357.51 191.10,357.60 191.53,357.68 191.96,357.76 192.39,357.84 192.82,357.92 193.25,358.00 193.68,358.08 194.11,358.16 194.54,358.23 194.97,358.31 195.40,358.38 195.83,358.45 196.26,358.52 196.69,358.59 197.12,358.66 197.54,358.72 197.97,358.79 198.40,358.85 198.83,358.92 199.26,358.98 199.69,359.04 200.12,359.10 200.55,359.16 200.98,359.22 201.41,359.28 201.84,359.34 202.27,359.39 202.70,359.45 203.13,359.50 203.56,359.56 203.99,359.61 204.42,359.66 204.85,359.71 205.28,359.76 205.71,359.81 206.14,359.86 206.57,359.91 207.00,359.96 207.43,360.01 207.86,360.05 208.28,360.10 208.71,360.14 209.14,360.19 209.57,360.23 210.00,360.27 210.43,360.32 210.86,360.36 211.29,360.40 211.72,360.44 212.15,360.48 212.58,360.52 213.01,360.56 213.44,360.60 213.87,360.63 214.30,360.67 214.73,360.71 215.16,360.74 215.59,360.78 216.02,360.82 216.45,360.85 216.88,360.89 217.31,360.92 217.74,360.95 218.17,360.99 218.59,361.02 219.02,361.05 219.45,361.08 219.88,361.11 220.31,361.14 220.74,361.18 221.17,361.21 221.60,361.24 222.03,361.26 222.46,361.29 222.89,361.32 223.32,361.35 223.75,361.38" fill="none" stroke="#6fdc3c" stroke-width="1.5" stroke-linejoin="round" />
<polyline points="43.75,363.70 44.18,363.69 44.61,363.68 45.04,363.67 45.47,363.67 45.90,363.66 46.33,363.65 46.76,363.65 47.19,363.64 47.62,363.63 48.05,363.62 48.48,363.62 48.91,363.61 49.33,363.60 49.76,363.59 50.19,363.58 50.62,363.58 51.05,363.57 51.48,363.56 51.91,363.55 52.34,363.54 52.77,363.53 53.20,363.53 53.63,363.52 54.06,363.51 54.49,363.50 54.92,363.49 55.35,363.48 55.78,363.47 56.21,363.46 56.64,363.45 57.07,363.44 57.50,363.43 57.93,363.42 58.36,363.41 58.79,363.40 59.22,363.39 59.64,363.38 60.07,363.37 60.50,363.36 60.93,363.35 61.36,363.34 61.79,363.33 62.22,363.32 62.65,363.31 63.08,363.29 63.51,363.28 63.94,363.27 64.37,363.26 64.80,363.25 65.23,363.23 65.66,363.22 66.09,363.21 66.52,363.20 66.95,363.18 67.38,363.17 67.81,363.16 68.24,363.14 68.67,363.13 69.10,363.11 69.53,363.10 69.96,363.09 70.38,363.07 70.81,363.06 71.24,363.04 71.67,363.03 72.10,363.01 72.53,362.99 72.96,362.98 73.39,362.96 73.82,362.95 74.25,362.93 74.68,362.91 75.11,362.89 75.54,362.88 75.97,362.86 76.40,362.84 76.83,362.82 77.26,362.80 77.69,362.79 78.12,362.77 78.55,362.75 78.98,362.73 79.41,362.71 79.84,362.69 80.27,362.67 80.70,362.65 81.12,362.62 81.55,362.60 81.98,362.58 82.41,362.56 82.84,362.54 83.27,362.51 83.70,362.49 84.13,362.46 84.56,362.44 84.99,362.42 85.42,362.39 85.85,362.36 86.28,362.34 86.71,362.31 87.14,362.29 87.57,362.26 88.00,362.23 88.43,362.20 88.86,362.17 89.29,362.14 89.72,362.11 90.15,362.08 90.58,362.05 91.01,362.02 91.43,361.99 91.86,361.95 92.29,361.92 92.72,361.89 93.15,361.85 93.58,361.82 94.01,361.78 94.44,361.74 94.87,361.71 95.30,361.67 95.73,361.63 96.16,361.59 96.59,361.55 97.02,361.51 97.45,361.47 97.88,361.42 98.31,361.38 98.74,361.34 99.17,361.29 99.60,361.24 100.03,361.20 100.46,361.15 100.89,361.10 101.32,361.05 101.75,361.00 102.17,360.94 102.60,360.89 103.03,360.84 103.46,360.78 103.89,360.72 104.32,360.66 104.75,360.60 105.18,360.54 105.61,360.48 106.04,360.42 106.47,360.35 106.90,360.29 107.33,360.22 107.76,360.15 108.19,360.08 108.62,360.00 109.05,359.93 109.48,359.85 109.91,359.77 110.34,359.69 110.77,359.61 111.20,359.53 111.63,359.44 112.06,359.35 112.49,359.26 112.91,359.17 113.34,359.07 113.77,358.97 114.20,358.87 114.63,358.77 115.06,358.67 115.49,358.56 115.92,358.45 116.35,358.33 116.78,358.22 117.21,358.10 117.64,357.97 118.07,357.85 118.50,357.72 118.93,357.58 119.36,357.45 119.79,357.31 120.22,357.16 120.65,357.01 121.08,356.86 121.51,356.70 121.94,356.54 122.37,356.37 122.80,356.20 123.22,356.03 123.65,355.84 124.08,355.66 124.51,355.47 124.94,355.27 125.37,355.06 125.80,354.85 126.23,354.64 126.66,354.41 127.09,354.18 127.52,353.95 127.95,353.70 128.38,353.45 128.81,353.19 129.24,352.93 129.67,352.65 130.10,352.37 130.53,352.07 130.96,351.77 131.39,351.46 131.82,351.14 132.25,350.80 132.68,350.46 133.11,350.11 133.54,349.74 133.96,349.37 134.39,348.98 134.82,348.58 135.25,348.17 135.68,347.74 136.11,347.30 136.54,346.85 136.97,346.39 137.40,345.91 137.83,345.41 138.26,344.90 138.69,344.38 139.12,343.84 139.55,343.29 139.98,342.72 140.41,342.13 140.84,341.53 141.27,340.92 141.70,340.29 142.13,339.64 142.56,338.98 142.99,338.31 143.42,337.62 143.85,336.92 144.28,336.21 144.70,335.48 145.13,334.75 145.56,334.01 145.99,333.26 146.42,332.51 146.85,331.75 147.28,331.00 147.71,330.24 148.14,329.49 148.57,328.75 149.00,328.01 149.43,327.29 149.86,326.58 150.29,325.90 150.72,325.24 151.15,324.60 151.58,324.00 152.01,323.43 152.44,322.90 152.87,322.42 153.30,321.98 153.73,321.59 154.16,321.25 154.59,320.96 155.01,320.73 155.44,320.56 155.87,320.45 156.30,320.40 156.73,320.42 157.16,320.49 157.59,320.62 158.02,320.82 158.45,321.07 158.88,321.38 159.31,321.74 159.74,322.15 160.17,322.61 160.60,323.12 161.03,323.66 161.46,324.25 161.89,324.86 162.32,325.51 162.75,326.18 163.18,326.87 163.61,327.58 164.04,328.31 164.47,329.05 164.90,329.80 165.33,330.55 165.75,331.31 166.18,332.07 166.61,332.82 167.04,333.57 167.47,334.32 167.90,335.05 168.33,335.78 168.76,336.50 169.19,337.21 169.62,337.90 170.05,338.59 170.48,339.25 170.91,339.91 171.34,340.55 171.77,341.17 172.20,341.78 172.63,342.38 173.06,342.95 173.49,343.52 173.92,344.06 174.35,344.60 174.78,345.11 175.21,345.62 175.64,346.11 176.07,346.58 176.49,347.04 176.92,347.49 177.35,347.92 177.78,348.34 178.21,348.75 178.64,349.14 179.07,349.52 179.50,349.90 179.93,350.26 180.36,350.60 180.79,350.94 181.22,351.27 181.65,351.59 182.08,351.90 182.51,352.19 182.94,352.48 183.37,352.76 183.80,353.04 184.23,353.30 184.66,353.56 185.09,353.81 185.52,354.05 185.95,354.28 186.38,354.51 186.80,354.73 187.23,354.94 187.66,355.15 188.09,355.35 188.52,355.55 188.95,355.74 189.38,355.92 189.81,356.10 190.24,356.27 190.67,356.44 191.10,356.61 191.53,356.77 191.96,356.92 192.39,357.07 192.82,357.22 193.25,357.36 193.68,357.50 194.11,357.64 194.54,357.77 194.97,357.90 195.40,358.02 195.83,358.15 196.26,358.26 196.69,358.38 197.12,358.49 197.54,358.60 197.97,358.71 198.40,358.81 198.83,358.92 199.26,359.01 199.69,359.11 200.12,359.21 200.55,359.30 200.98,359.39 201.41,359.48 201.84,359.56 202.27,359.64 202.70,359.73 203.13,359.81 203.56,359.88 203.99,359.96 204.42,360.03 204.85,360.11 205.28,360.18 205.71,360.25 206.14,360.31 206.57,360.38 207.00,360.44 207.43,360.51 207.86,360.57 208.28,360.63 208.71,360.69 209.14,360.75 209.57,360.80 210.00,360.86 210.43,360.91 210.86,360.97 211.29,361.02 211.72,361.07 212.15,361.12 212.58,361.17 213.01,361.22 213.44,361.26 213.87,361.31 214.30,361.35 214.73,361.40 215.16,361.44 215.59,361.48 216.02,361.53 216.45,361.57 216.88,361.61 217.31,361.65 217.74,361.69 218.17,361.72 218.59,361.76 219.02,361.80 219.45,361.83 219.88,361.87 220.31,361.90 220.74,361.94 221.17,361.97 221.60,362.00 222.03,362.03 222.46,362.06 222.89,362.10 223.32,362.13 223.75,362.16" fill="none" stroke="#6fdc3c" stroke-width="1.5" stroke-linejoin="round" />
<polyline points="43.75,360.21 45.46,357.91 47.17,358.65 48.88,359.80 50.59,359.43 52.30,358.79 54.01,359.38 55.72,354.29 57.43,356.47 59.14,358.71 60.85,358.29 62.56,358.80 64.27,353.39 65.98,353.97 67.69,357.01 69.40,356.86 71.11,358.14 72.82,356.22 74.53,354.29 76.24,355.49 77.95,353.33 79.66,349.87 81.37,353.29 83.08,352.73 84.79,352.44 86.50,348.53 88.21,352.01 89.92,349.63 91.63,349.63 93.34,346.38 95.05,344.93 96.76,346.58 98.47,342.43 100.18,343.02 101.89,341.24 103.60,339.58 105.31,337.00 107.02,337.37 108.73,334.50 110.44,332.24 112.15,329.87 113.86,328.20 115.57,325.22 117.28,322.96 118.99,318.51 120.70,317.67 122.41,314.47 124.12,311.87 125.83,308.52 127.54,309.21 129.25,307.61 130.96,305.89 132.67,302.54 134.38,303.79 136.09,299.19 137.80,301.22 139.51,302.07 141.22,300.66 142.93,301.11 144.64,302.66 146.35,299.37 148.06,298.34 149.77,289.80 151.48,295.36 153.19,294.69 154.90,295.00 156.61,305.60 158.32,297.50 160.03,300.01 161.74,304.84 163.45,308.30 165.16,312.41 166.87,318.25 168.58,318.55 170.29,326.34 172.00,329.71 173.71,328.71 175.42,335.13 177.13,335.49 178.84,341.43 180.55,342.32 182.26,342.69 183.97,343.34 185.68,346.31 187.39,343.16 189.10,347.60 190.81,350.18 192.52,350.46 194.23,350.76 195.94,353.00 197.65,351.73 199.36,353.72 201.07,353.54 202.78,353.75 204.49,353.46 206.20,354.60 207.91,357.94 209.62,355.86 211.33,356.01 213.04,356.09 214.75,358.12 216.46,356.62 218.17,356.77 219.88,356.88 221.59,359.31 223.30,357.60" fill="none" stroke="#161616" stroke-width="1.3" stroke-linejoin="round" />
<polyline points="43.75,360.09 44.18,360.06 44.61,360.02 45.04,359.97 45.47,359.93 45.90,359.89 46.33,359.85 46.76,359.81 47.19,359.76 47.62,359.72 48.05,359.67 48.48,359.63 48.91,359.58 49.33,359.54 49.76,359.49 50.19,359.44 50.62,359.39 51.05,359.34 51.48,359.29 51.91,359.24 52.34,359.19 52.77,359.14 53.20,359.09 53.63,359.03 54.06,358.98 54.49,358.92 54.92,358.87 55.35,358.81 55.78,358.76 56.21,358.70 56.64,358.64 57.07,358.58 57.50,358.52 57.93,358.46 58.36,358.39 58.79,358.33 59.22,358.26 59.64,358.20 60.07,358.13 60.50,358.07 60.93,358.00 61.36,357.93 61.79,357.86 62.22,357.79 62.65,357.71 63.08,357.64 63.51,357.56 63.94,357.49 64.37,357.41 64.80,357.33 65.23,357.25 65.66,357.17 66.09,357.09 66.52,357.00 66.95,356.92 67.38,356.83 67.81,356.74 68.24,356.66 68.67,356.56 69.10,356.47 69.53,356.38 69.96,356.28 70.38,356.19 70.81,356.09 71.24,355.99 71.67,355.89 72.10,355.78 72.53,355.68 72.96,355.57 73.39,355.46 73.82,355.35 74.25,355.24 74.68,355.12 75.11,355.00 75.54,354.88 75.97,354.76 76.40,354.64 76.83,354.51 77.26,354.39 77.69,354.26 78.12,354.12 78.55,353.99 78.98,353.85 79.41,353.71 79.84,353.57 80.27,353.43 80.70,353.28 81.12,353.13 81.55,352.98 81.98,352.82 82.41,352.66 82.84,352.50 83.27,352.33 83.70,352.17 84.13,352.00 84.56,351.82 84.99,351.64 85.42,351.46 85.85,351.28 86.28,351.09 86.71,350.90 87.14,350.70 87.57,350.50 88.00,350.30 88.43,350.09 88.86,349.88 89.29,349.67 89.72,349.45 90.15,349.22 90.58,348.99 91.01,348.76 91.43,348.52 91.86,348.28 92.29,348.03 92.72,347.78 93.15,347.52 93.58,347.26 94.01,347.00 94.44,346.72 94.87,346.44 95.30,346.16 95.73,345.87 96.16,345.57 96.59,345.27 97.02,344.97 97.45,344.65 97.88,344.33 98.31,344.00 98.74,343.67 99.17,343.33 99.60,342.99 100.03,342.63 100.46,342.27 100.89,341.90 101.32,341.53 101.75,341.15 102.17,340.76 102.60,340.36 103.03,339.96 103.46,339.55 103.89,339.13 104.32,338.70 104.75,338.26 105.18,337.82 105.61,337.37 106.04,336.91 106.47,336.44 106.90,335.96 107.33,335.48 107.76,334.99 108.19,334.49 108.62,333.98 109.05,333.46 109.48,332.93 109.91,332.40 110.34,331.86 110.77,331.31 111.20,330.76 111.63,330.19 112.06,329.62 112.49,329.04 112.91,328.46 113.34,327.87 113.77,327.27 114.20,326.67 114.63,326.06 115.06,325.44 115.49,324.82 115.92,324.20 116.35,323.57 116.78,322.94 117.21,322.31 117.64,321.68 118.07,321.04 118.50,320.41 118.93,319.77 119.36,319.13 119.79,318.50 120.22,317.87 120.65,317.24 121.08,316.62 121.51,316.00 121.94,315.38 122.37,314.78 122.80,314.18 123.22,313.59 123.65,313.01 124.08,312.44 124.51,311.88 124.94,311.33 125.37,310.79 125.80,310.27 126.23,309.77 126.66,309.27 127.09,308.80 127.52,308.34 127.95,307.89 128.38,307.46 128.81,307.06 129.24,306.66 129.67,306.29 130.10,305.93 130.53,305.59 130.96,305.27 131.39,304.97 131.82,304.68 132.25,304.41 132.68,304.15 133.11,303.91 133.54,303.69 133.96,303.48 134.39,303.28 134.82,303.09 135.25,302.92 135.68,302.75 136.11,302.60 136.54,302.45 136.97,302.30 137.40,302.17 137.83,302.03 138.26,301.90 138.69,301.77 139.12,301.64 139.55,301.51 139.98,301.37 140.41,301.23 140.84,301.09 141.27,300.94 141.70,300.79 142.13,300.63 142.56,300.46 142.99,300.28 143.42,300.09 143.85,299.90 144.28,299.69 144.70,299.48 145.13,299.26 145.56,299.03 145.99,298.80 146.42,298.56 146.85,298.31 147.28,298.06 147.71,297.82 148.14,297.57 148.57,297.33 149.00,297.09 149.43,296.86 149.86,296.65 150.29,296.45 150.72,296.26 151.15,296.10 151.58,295.97 152.01,295.87 152.44,295.79 152.87,295.76 153.30,295.76 153.73,295.81 154.16,295.90 154.59,296.04 155.01,296.23 155.44,296.47 155.87,296.77 156.30,297.12 156.73,297.52 157.16,297.98 157.59,298.50 158.02,299.06 158.45,299.68 158.88,300.35 159.31,301.06 159.74,301.82 160.17,302.62 160.60,303.46 161.03,304.33 161.46,305.23 161.89,306.16 162.32,307.12 162.75,308.09 163.18,309.08 163.61,310.09 164.04,311.10 164.47,312.12 164.90,313.14 165.33,314.16 165.75,315.18 166.18,316.20 166.61,317.20 167.04,318.20 167.47,319.19 167.90,320.17 168.33,321.13 168.76,322.08 169.19,323.01 169.62,323.92 170.05,324.82 170.48,325.70 170.91,326.56 171.34,327.40 171.77,328.23 172.20,329.03 172.63,329.82 173.06,330.58 173.49,331.33 173.92,332.06 174.35,332.77 174.78,333.46 175.21,334.13 175.64,334.79 176.07,335.42 176.49,336.04 176.92,336.65 177.35,337.24 177.78,337.81 178.21,338.36 178.64,338.90 179.07,339.43 179.50,339.94 179.93,340.44 180.36,340.92 180.79,341.39 181.22,341.85 181.65,342.29 182.08,342.73 182.51,343.15 182.94,343.56 183.37,343.96 183.80,344.35 184.23,344.72 184.66,345.09 185.09,345.45 185.52,345.80 185.95,346.14 186.38,346.47 186.80,346.79 187.23,347.11 187.66,347.41 188.09,347.71 188.52,348.00 188.95,348.29 189.38,348.56 189.81,348.83 190.24,349.10 190.67,349.35 191.10,349.60 191.53,349.85 191.96,350.09 192.39,350.32 192.82,350.55 193.25,350.77 193.68,350.98 194.11,351.20 194.54,351.40 194.97,351.61 195.40,351.80 195.83,352.00 196.26,352.18 196.69,352.37 197.12,352.55 197.54,352.73 197.97,352.90 198.40,353.07 198.83,353.23 199.26,353.40 199.69,353.55 200.12,353.71 200.55,353.86 200.98,354.01 201.41,354.16 201.84,354.30 202.27,354.44 202.70,354.57 203.13,354.71 203.56,354.84 203.99,354.97 204.42,355.09 204.85,355.22 205.28,355.34 205.71,355.46 206.14,355.58 206.57,355.69 207.00,355.80 207.43,355.91 207.86,356.02 208.28,356.13 208.71,356.23 209.14,356.33 209.57,356.43 210.00,356.53 210.43,356.63 210.86,356.72 211.29,356.82 211.72,356.91 212.15,357.00 212.58,357.09 213.01,357.17 213.44,357.26 213.87,357.34 214.30,357.43 214.73,357.51 215.16,357.59 215.59,357.67 216.02,357.74 216.45,357.82 216.88,357.89 217.31,357.97 217.74,358.04 218.17,358.11 218.59,358.18 219.02,358.25 219.45,358.31 219.88,358.38 220.31,358.45 220.74,358.51 221.17,358.57 221.60,358.64 222.03,358.70 222.46,358.76 222.89,358.82 223.32,358.88 223.75,358.93" fill="none" stroke="#dc1f1f" stroke-width="1.5" stroke-linejoin="round" />
<line x1="45" y1="282.5" x2="70" y2="282.5" stroke="#161616" stroke-width="1.3"/>
<text x="73" y="286" font-size="10.8" text-anchor="start" font-weight="normal" fill="#1c1c1c" >with PMMA</text>
<text x="24.5" y="287.5" font-size="14" text-anchor="start" font-weight="normal" fill="#1c1c1c" >(d)</text>
<text x="24.3" y="305" font-size="13" text-anchor="start" fill="#1c1c1c">2697.0(1.0) cm<tspan font-size="6.50" dx="-0.39" dy="-7.80">-<tspan dx="0.52">1</tspan></tspan></text>
<text x="24.3" y="322.7" font-size="13" text-anchor="start" fill="#1c1c1c">56.2(2) cm<tspan font-size="6.50" dx="-0.39" dy="-7.80">-<tspan dx="0.52">1</tspan></tspan></text>
<text x="21.0" y="341.8" font-size="13.3" text-anchor="start" fill="#1c1c1c"><tspan font-family="Liberation Serif" font-size="12.8">&#916;&#965;</tspan>=28.2 cm<tspan font-size="6.65" dx="-0.40" dy="-7.98">-<tspan dx="0.53">1</tspan></tspan></text>
<text x="149.4" y="287.1" font-size="13.2" text-anchor="start" fill="#1c1c1c">2725.2(0.6) cm<tspan font-size="6.60" dx="-0.40" dy="-6.34">-<tspan dx="0.53">1</tspan></tspan></text>
<text x="164.8" y="305.6" font-size="13.0" text-anchor="start" fill="#1c1c1c">36.2(1.4) cm<tspan font-size="6.50" dx="-0.39" dy="-6.50">-<tspan dx="0.52">1</tspan></tspan></text>
<rect x="285.2" y="275.8" width="232.8" height="92.39999999999998" fill="none" stroke="#1a1a1a" stroke-width="1.6"/>
<line x1="308.25" y1="368.2" x2="308.25" y2="363.7" stroke="#222" stroke-width="1.3"/><line x1="355.00" y1="368.2" x2="355.00" y2="363.7" stroke="#222" stroke-width="1.3"/><line x1="401.75" y1="368.2" x2="401.75" y2="363.7" stroke="#222" stroke-width="1.3"/><line x1="448.50" y1="368.2" x2="448.50" y2="363.7" stroke="#222" stroke-width="1.3"/><line x1="495.25" y1="368.2" x2="495.25" y2="363.7" stroke="#222" stroke-width="1.3"/><line x1="331.62" y1="368.2" x2="331.62" y2="365.2" stroke="#222" stroke-width="1.3"/><line x1="378.38" y1="368.2" x2="378.38" y2="365.2" stroke="#222" stroke-width="1.3"/><line x1="425.12" y1="368.2" x2="425.12" y2="365.2" stroke="#222" stroke-width="1.3"/><line x1="471.88" y1="368.2" x2="471.88" y2="365.2" stroke="#222" stroke-width="1.3"/>
<text x="308.25" y="382.2" font-size="9.5" text-anchor="middle" font-weight="normal" fill="#1c1c1c" textLength="21.8" lengthAdjust="spacingAndGlyphs">2600</text><text x="355.00" y="382.2" font-size="9.5" text-anchor="middle" font-weight="normal" fill="#1c1c1c" textLength="21.8" lengthAdjust="spacingAndGlyphs">2650</text><text x="401.75" y="382.2" font-size="9.5" text-anchor="middle" font-weight="normal" fill="#1c1c1c" textLength="21.8" lengthAdjust="spacingAndGlyphs">2700</text><text x="448.50" y="382.2" font-size="9.5" text-anchor="middle" font-weight="normal" fill="#1c1c1c" textLength="21.8" lengthAdjust="spacingAndGlyphs">2750</text><text x="495.25" y="382.2" font-size="9.5" text-anchor="middle" font-weight="normal" fill="#1c1c1c" textLength="21.8" lengthAdjust="spacingAndGlyphs">2800</text>
<text x="401.7" y="396.7" font-size="9.8" text-anchor="middle" fill="#1c1c1c">Raman shift (cm<tspan font-size="4.90" dx="0.39" dy="-5.88">-<tspan dx="0.69">1</tspan></tspan><tspan dx="0.39" dy="5.88">)</tspan></text>
<text transform="translate(274.4,320.4) rotate(-90)" font-size="10.6" text-anchor="middle" fill="#1c1c1c">Intensity (arb. u.)</text>
<polyline points="308.25,361.03 308.70,361.00 309.14,360.96 309.59,360.93 310.04,360.89 310.48,360.86 310.93,360.82 311.37,360.78 311.82,360.74 312.27,360.70 312.71,360.67 313.16,360.63 313.61,360.58 314.05,360.54 314.50,360.50 314.94,360.46 315.39,360.42 315.84,360.37 316.28,360.33 316.73,360.29 317.18,360.24 317.62,360.19 318.07,360.15 318.51,360.10 318.96,360.05 319.41,360.00 319.85,359.95 320.30,359.90 320.75,359.85 321.19,359.80 321.64,359.75 322.09,359.69 322.53,359.64 322.98,359.58 323.42,359.53 323.87,359.47 324.32,359.41 324.76,359.35 325.21,359.29 325.66,359.23 326.10,359.17 326.55,359.11 326.99,359.04 327.44,358.98 327.89,358.91 328.33,358.85 328.78,358.78 329.23,358.71 329.67,358.64 330.12,358.57 330.57,358.49 331.01,358.42 331.46,358.34 331.90,358.27 332.35,358.19 332.80,358.11 333.24,358.03 333.69,357.95 334.14,357.86 334.58,357.78 335.03,357.69 335.47,357.60 335.92,357.51 336.37,357.42 336.81,357.33 337.26,357.24 337.71,357.14 338.15,357.04 338.60,356.94 339.04,356.84 339.49,356.74 339.94,356.63 340.38,356.52 340.83,356.41 341.28,356.30 341.72,356.19 342.17,356.07 342.62,355.95 343.06,355.83 343.51,355.71 343.95,355.59 344.40,355.46 344.85,355.33 345.29,355.20 345.74,355.06 346.19,354.92 346.63,354.78 347.08,354.64 347.52,354.49 347.97,354.35 348.42,354.19 348.86,354.04 349.31,353.88 349.76,353.72 350.20,353.55 350.65,353.39 351.09,353.22 351.54,353.04 351.99,352.86 352.43,352.68 352.88,352.49 353.33,352.31 353.77,352.11 354.22,351.91 354.67,351.71 355.11,351.51 355.56,351.30 356.00,351.08 356.45,350.86 356.90,350.64 357.34,350.41 357.79,350.18 358.24,349.94 358.68,349.70 359.13,349.45 359.57,349.19 360.02,348.94 360.47,348.67 360.91,348.40 361.36,348.13 361.81,347.85 362.25,347.56 362.70,347.27 363.14,346.97 363.59,346.66 364.04,346.35 364.48,346.03 364.93,345.71 365.38,345.37 365.82,345.04 366.27,344.69 366.72,344.34 367.16,343.98 367.61,343.61 368.05,343.24 368.50,342.86 368.95,342.47 369.39,342.07 369.84,341.67 370.29,341.26 370.73,340.84 371.18,340.42 371.62,339.99 372.07,339.54 372.52,339.10 372.96,338.64 373.41,338.18 373.86,337.71 374.30,337.23 374.75,336.75 375.20,336.26 375.64,335.76 376.09,335.25 376.53,334.74 376.98,334.23 377.43,333.70 377.87,333.18 378.32,332.64 378.77,332.11 379.21,331.56 379.66,331.02 380.10,330.47 380.55,329.92 381.00,329.37 381.44,328.82 381.89,328.26 382.34,327.71 382.78,327.16 383.23,326.61 383.67,326.06 384.12,325.52 384.57,324.98 385.01,324.45 385.46,323.93 385.91,323.41 386.35,322.90 386.80,322.41 387.25,321.92 387.69,321.45 388.14,320.99 388.58,320.55 389.03,320.13 389.48,319.72 389.92,319.33 390.37,318.97 390.82,318.62 391.26,318.30 391.71,318.00 392.15,317.73 392.60,317.48 393.05,317.26 393.49,317.06 393.94,316.89 394.39,316.76 394.83,316.65 395.28,316.57 395.72,316.52 396.17,316.50 396.62,316.51 397.06,316.55 397.51,316.62 397.96,316.72 398.40,316.85 398.85,317.01 399.30,317.20 399.74,317.41 400.19,317.65 400.63,317.92 401.08,318.21 401.53,318.53 401.97,318.87 402.42,319.23 402.87,319.61 403.31,320.01 403.76,320.43 404.20,320.87 404.65,321.32 405.10,321.79 405.54,322.27 405.99,322.76 406.44,323.27 406.88,323.78 407.33,324.30 407.78,324.83 408.22,325.37 408.67,325.91 409.11,326.46 409.56,327.00 410.01,327.56 410.45,328.11 410.90,328.66 411.35,329.22 411.79,329.77 412.24,330.32 412.68,330.87 413.13,331.41 413.58,331.95 414.02,332.49 414.47,333.03 414.92,333.56 415.36,334.08 415.81,334.60 416.25,335.11 416.70,335.62 417.15,336.12 417.59,336.61 418.04,337.10 418.49,337.58 418.93,338.05 419.38,338.51 419.83,338.97 420.27,339.42 420.72,339.86 421.16,340.30 421.61,340.73 422.06,341.15 422.50,341.56 422.95,341.96 423.40,342.36 423.84,342.75 424.29,343.13 424.73,343.51 425.18,343.88 425.63,344.24 426.07,344.59 426.52,344.94 426.97,345.28 427.41,345.61 427.86,345.94 428.30,346.26 428.75,346.57 429.20,346.88 429.64,347.18 430.09,347.48 430.54,347.77 430.98,348.05 431.43,348.33 431.88,348.60 432.32,348.86 432.77,349.12 433.21,349.38 433.66,349.63 434.11,349.87 434.55,350.11 435.00,350.35 435.45,350.58 435.89,350.80 436.34,351.02 436.78,351.24 437.23,351.45 437.68,351.66 438.12,351.86 438.57,352.06 439.02,352.25 439.46,352.44 439.91,352.63 440.36,352.81 440.80,352.99 441.25,353.17 441.69,353.34 442.14,353.51 442.59,353.67 443.03,353.84 443.48,353.99 443.93,354.15 444.37,354.30 444.82,354.45 445.26,354.60 445.71,354.74 446.16,354.88 446.60,355.02 447.05,355.16 447.50,355.29 447.94,355.42 448.39,355.55 448.83,355.68 449.28,355.80 449.73,355.92 450.17,356.04 450.62,356.16 451.07,356.27 451.51,356.38 451.96,356.49 452.41,356.60 452.85,356.71 453.30,356.81 453.74,356.91 454.19,357.01 454.64,357.11 455.08,357.21 455.53,357.30 455.98,357.40 456.42,357.49 456.87,357.58 457.31,357.67 457.76,357.75 458.21,357.84 458.65,357.92 459.10,358.01 459.55,358.09 459.99,358.17 460.44,358.25 460.88,358.32 461.33,358.40 461.78,358.47 462.22,358.55 462.67,358.62 463.12,358.69 463.56,358.76 464.01,358.83 464.46,358.89 464.90,358.96 465.35,359.03 465.79,359.09 466.24,359.15 466.69,359.22 467.13,359.28 467.58,359.34 468.03,359.40 468.47,359.45 468.92,359.51 469.36,359.57 469.81,359.62 470.26,359.68 470.70,359.73 471.15,359.78 471.60,359.84 472.04,359.89 472.49,359.94 472.93,359.99 473.38,360.04 473.83,360.09 474.27,360.13 474.72,360.18 475.17,360.23 475.61,360.27 476.06,360.32 476.51,360.36 476.95,360.41 477.40,360.45 477.84,360.49 478.29,360.53 478.74,360.57 479.18,360.61 479.63,360.65 480.08,360.69 480.52,360.73 480.97,360.77 481.41,360.81 481.86,360.85 482.31,360.88 482.75,360.92 483.20,360.95 483.65,360.99 484.09,361.02 484.54,361.06 484.99,361.09 485.43,361.13 485.88,361.16 486.32,361.19 486.77,361.22 487.22,361.25 487.66,361.29 488.11,361.32 488.56,361.35 489.00,361.38 489.45,361.41 489.89,361.44 490.34,361.46 490.79,361.49 491.23,361.52 491.68,361.55 492.13,361.58 492.57,361.60 493.02,361.63 493.46,361.66 493.91,361.68 494.36,361.71 494.80,361.73 495.25,361.76" fill="none" stroke="#6fdc3c" stroke-width="1.5" stroke-linejoin="round" />
<polyline points="308.25,363.73 308.70,363.72 309.14,363.71 309.59,363.70 310.04,363.69 310.48,363.69 310.93,363.68 311.37,363.67 311.82,363.66 312.27,363.65 312.71,363.65 313.16,363.64 313.61,363.63 314.05,363.62 314.50,363.61 314.94,363.60 315.39,363.59 315.84,363.59 316.28,363.58 316.73,363.57 317.18,363.56 317.62,363.55 318.07,363.54 318.51,363.53 318.96,363.52 319.41,363.51 319.85,363.50 320.30,363.49 320.75,363.48 321.19,363.47 321.64,363.46 322.09,363.45 322.53,363.44 322.98,363.43 323.42,363.42 323.87,363.40 324.32,363.39 324.76,363.38 325.21,363.37 325.66,363.36 326.10,363.35 326.55,363.33 326.99,363.32 327.44,363.31 327.89,363.30 328.33,363.28 328.78,363.27 329.23,363.26 329.67,363.24 330.12,363.23 330.57,363.22 331.01,363.20 331.46,363.19 331.90,363.17 332.35,363.16 332.80,363.14 333.24,363.13 333.69,363.11 334.14,363.10 334.58,363.08 335.03,363.07 335.47,363.05 335.92,363.04 336.37,363.02 336.81,363.00 337.26,362.99 337.71,362.97 338.15,362.95 338.60,362.93 339.04,362.91 339.49,362.90 339.94,362.88 340.38,362.86 340.83,362.84 341.28,362.82 341.72,362.80 342.17,362.78 342.62,362.76 343.06,362.74 343.51,362.72 343.95,362.70 344.40,362.67 344.85,362.65 345.29,362.63 345.74,362.61 346.19,362.58 346.63,362.56 347.08,362.54 347.52,362.51 347.97,362.49 348.42,362.46 348.86,362.44 349.31,362.41 349.76,362.38 350.20,362.36 350.65,362.33 351.09,362.30 351.54,362.27 351.99,362.24 352.43,362.21 352.88,362.19 353.33,362.15 353.77,362.12 354.22,362.09 354.67,362.06 355.11,362.03 355.56,361.99 356.00,361.96 356.45,361.93 356.90,361.89 357.34,361.85 357.79,361.82 358.24,361.78 358.68,361.74 359.13,361.70 359.57,361.66 360.02,361.62 360.47,361.58 360.91,361.54 361.36,361.50 361.81,361.46 362.25,361.41 362.70,361.37 363.14,361.32 363.59,361.27 364.04,361.22 364.48,361.18 364.93,361.13 365.38,361.07 365.82,361.02 366.27,360.97 366.72,360.91 367.16,360.86 367.61,360.80 368.05,360.74 368.50,360.68 368.95,360.62 369.39,360.56 369.84,360.50 370.29,360.43 370.73,360.37 371.18,360.30 371.62,360.23 372.07,360.16 372.52,360.09 372.96,360.01 373.41,359.94 373.86,359.86 374.30,359.78 374.75,359.70 375.20,359.61 375.64,359.53 376.09,359.44 376.53,359.35 376.98,359.26 377.43,359.17 377.87,359.07 378.32,358.97 378.77,358.87 379.21,358.76 379.66,358.66 380.10,358.55 380.55,358.44 381.00,358.32 381.44,358.20 381.89,358.08 382.34,357.96 382.78,357.83 383.23,357.70 383.67,357.56 384.12,357.42 384.57,357.28 385.01,357.13 385.46,356.98 385.91,356.82 386.35,356.66 386.80,356.50 387.25,356.33 387.69,356.16 388.14,355.98 388.58,355.79 389.03,355.60 389.48,355.41 389.92,355.20 390.37,355.00 390.82,354.78 391.26,354.56 391.71,354.33 392.15,354.10 392.60,353.86 393.05,353.61 393.49,353.35 393.94,353.08 394.39,352.81 394.83,352.53 395.28,352.24 395.72,351.93 396.17,351.62 396.62,351.30 397.06,350.97 397.51,350.63 397.96,350.27 398.40,349.91 398.85,349.53 399.30,349.14 399.74,348.74 400.19,348.32 400.63,347.89 401.08,347.45 401.53,346.99 401.97,346.51 402.42,346.03 402.87,345.52 403.31,345.00 403.76,344.46 404.20,343.90 404.65,343.33 405.10,342.74 405.54,342.13 405.99,341.50 406.44,340.85 406.88,340.18 407.33,339.50 407.78,338.79 408.22,338.07 408.67,337.33 409.11,336.56 409.56,335.78 410.01,334.99 410.45,334.17 410.90,333.34 411.35,332.49 411.79,331.63 412.24,330.76 412.68,329.87 413.13,328.98 413.58,328.08 414.02,327.18 414.47,326.27 414.92,325.37 415.36,324.47 415.81,323.58 416.25,322.71 416.70,321.85 417.15,321.01 417.59,320.20 418.04,319.43 418.49,318.68 418.93,317.98 419.38,317.33 419.83,316.72 420.27,316.18 420.72,315.69 421.16,315.26 421.61,314.91 422.06,314.62 422.50,314.40 422.95,314.27 423.40,314.20 423.84,314.22 424.29,314.31 424.73,314.48 425.18,314.72 425.63,315.03 426.07,315.41 426.52,315.86 426.97,316.37 427.41,316.94 427.86,317.57 428.30,318.24 428.75,318.96 429.20,319.71 429.64,320.50 430.09,321.32 430.54,322.17 430.98,323.03 431.43,323.91 431.88,324.81 432.32,325.70 432.77,326.61 433.21,327.51 433.66,328.42 434.11,329.31 434.55,330.20 435.00,331.08 435.45,331.95 435.89,332.81 436.34,333.65 436.78,334.48 437.23,335.29 437.68,336.08 438.12,336.85 438.57,337.61 439.02,338.34 439.46,339.06 439.91,339.76 440.36,340.44 440.80,341.09 441.25,341.74 441.69,342.36 442.14,342.96 442.59,343.54 443.03,344.11 443.48,344.66 443.93,345.19 444.37,345.71 444.82,346.21 445.26,346.69 445.71,347.16 446.16,347.61 446.60,348.05 447.05,348.48 447.50,348.89 447.94,349.29 448.39,349.67 448.83,350.05 449.28,350.41 449.73,350.76 450.17,351.10 450.62,351.42 451.07,351.74 451.51,352.05 451.96,352.35 452.41,352.63 452.85,352.91 453.30,353.18 453.74,353.45 454.19,353.70 454.64,353.95 455.08,354.19 455.53,354.42 455.98,354.64 456.42,354.86 456.87,355.07 457.31,355.28 457.76,355.48 458.21,355.67 458.65,355.86 459.10,356.04 459.55,356.22 459.99,356.39 460.44,356.56 460.88,356.72 461.33,356.88 461.78,357.04 462.22,357.19 462.67,357.33 463.12,357.47 463.56,357.61 464.01,357.74 464.46,357.88 464.90,358.00 465.35,358.13 465.79,358.25 466.24,358.36 466.69,358.48 467.13,358.59 467.58,358.70 468.03,358.80 468.47,358.91 468.92,359.01 469.36,359.11 469.81,359.20 470.26,359.29 470.70,359.39 471.15,359.47 471.60,359.56 472.04,359.65 472.49,359.73 472.93,359.81 473.38,359.89 473.83,359.97 474.27,360.04 474.72,360.11 475.17,360.19 475.61,360.26 476.06,360.33 476.51,360.39 476.95,360.46 477.40,360.52 477.84,360.59 478.29,360.65 478.74,360.71 479.18,360.77 479.63,360.82 480.08,360.88 480.52,360.93 480.97,360.99 481.41,361.04 481.86,361.09 482.31,361.14 482.75,361.19 483.20,361.24 483.65,361.29 484.09,361.34 484.54,361.38 484.99,361.43 485.43,361.47 485.88,361.51 486.32,361.56 486.77,361.60 487.22,361.64 487.66,361.68 488.11,361.72 488.56,361.76 489.00,361.79 489.45,361.83 489.89,361.87 490.34,361.90 490.79,361.94 491.23,361.97 491.68,362.01 492.13,362.04 492.57,362.07 493.02,362.10 493.46,362.14 493.91,362.17 494.36,362.20 494.80,362.23 495.25,362.26" fill="none" stroke="#6fdc3c" stroke-width="1.5" stroke-linejoin="round" />
<polyline points="308.25,359.65 310.03,361.29 311.80,359.04 313.58,360.49 315.36,359.66 317.13,357.27 318.91,358.55 320.69,359.20 322.46,356.62 324.24,357.28 326.02,359.55 327.79,357.78 329.57,357.21 331.34,358.33 333.12,357.51 334.90,356.00 336.67,356.20 338.45,354.14 340.23,351.55 342.00,351.94 343.78,352.88 345.56,351.14 347.33,353.06 349.11,350.84 350.89,346.76 352.66,349.89 354.44,349.46 356.22,348.83 357.99,348.94 359.77,346.39 361.55,342.81 363.32,342.85 365.10,342.70 366.87,340.56 368.65,338.23 370.43,336.75 372.20,334.79 373.98,332.90 375.76,330.84 377.53,327.51 379.31,322.39 381.09,323.60 382.86,318.47 384.64,319.10 386.42,316.33 388.19,309.49 389.97,309.09 391.75,308.28 393.52,304.03 395.30,306.69 397.08,300.23 398.85,300.22 400.63,302.67 402.40,301.48 404.18,299.86 405.96,298.37 407.73,298.05 409.51,298.92 411.29,295.93 413.06,295.47 414.84,295.28 416.62,291.72 418.39,289.37 420.17,291.08 421.95,286.63 423.72,293.32 425.50,294.71 427.28,296.06 429.05,301.50 430.83,305.21 432.61,309.95 434.38,315.26 436.16,318.84 437.93,324.56 439.71,326.59 441.49,331.61 443.26,335.95 445.04,337.13 446.82,338.11 448.59,340.25 450.37,341.48 452.15,344.88 453.92,347.01 455.70,347.48 457.48,349.64 459.25,347.22 461.03,347.47 462.81,349.18 464.58,352.10 466.36,354.33 468.14,354.48 469.91,355.26 471.69,354.04 473.46,356.62 475.24,356.04 477.02,355.95 478.79,357.78 480.57,355.01 482.35,357.05 484.12,357.21 485.90,356.02 487.68,359.13 489.45,357.33 491.23,359.58 493.01,358.29 494.78,359.98" fill="none" stroke="#161616" stroke-width="1.3" stroke-linejoin="round" />
<polyline points="308.25,360.06 308.70,360.02 309.14,359.97 309.59,359.93 310.04,359.89 310.48,359.84 310.93,359.80 311.37,359.75 311.82,359.71 312.27,359.66 312.71,359.61 313.16,359.56 313.61,359.51 314.05,359.47 314.50,359.41 314.94,359.36 315.39,359.31 315.84,359.26 316.28,359.21 316.73,359.15 317.18,359.10 317.62,359.04 318.07,358.99 318.51,358.93 318.96,358.87 319.41,358.81 319.85,358.75 320.30,358.69 320.75,358.63 321.19,358.57 321.64,358.51 322.09,358.44 322.53,358.38 322.98,358.31 323.42,358.24 323.87,358.17 324.32,358.10 324.76,358.03 325.21,357.96 325.66,357.89 326.10,357.82 326.55,357.74 326.99,357.67 327.44,357.59 327.89,357.51 328.33,357.43 328.78,357.35 329.23,357.27 329.67,357.18 330.12,357.10 330.57,357.01 331.01,356.92 331.46,356.83 331.90,356.74 332.35,356.65 332.80,356.55 333.24,356.46 333.69,356.36 334.14,356.26 334.58,356.16 335.03,356.06 335.47,355.96 335.92,355.85 336.37,355.74 336.81,355.63 337.26,355.52 337.71,355.41 338.15,355.29 338.60,355.17 339.04,355.05 339.49,354.93 339.94,354.81 340.38,354.68 340.83,354.55 341.28,354.42 341.72,354.29 342.17,354.15 342.62,354.01 343.06,353.87 343.51,353.73 343.95,353.58 344.40,353.43 344.85,353.28 345.29,353.13 345.74,352.97 346.19,352.81 346.63,352.64 347.08,352.48 347.52,352.31 347.97,352.13 348.42,351.96 348.86,351.78 349.31,351.59 349.76,351.40 350.20,351.21 350.65,351.02 351.09,350.82 351.54,350.61 351.99,350.41 352.43,350.20 352.88,349.98 353.33,349.76 353.77,349.54 354.22,349.31 354.67,349.07 355.11,348.83 355.56,348.59 356.00,348.34 356.45,348.09 356.90,347.83 357.34,347.57 357.79,347.30 358.24,347.02 358.68,346.74 359.13,346.45 359.57,346.16 360.02,345.86 360.47,345.56 360.91,345.24 361.36,344.93 361.81,344.60 362.25,344.27 362.70,343.93 363.14,343.59 363.59,343.23 364.04,342.87 364.48,342.51 364.93,342.13 365.38,341.75 365.82,341.36 366.27,340.96 366.72,340.55 367.16,340.14 367.61,339.71 368.05,339.28 368.50,338.84 368.95,338.39 369.39,337.94 369.84,337.47 370.29,337.00 370.73,336.51 371.18,336.02 371.62,335.52 372.07,335.00 372.52,334.48 372.96,333.95 373.41,333.42 373.86,332.87 374.30,332.31 374.75,331.74 375.20,331.17 375.64,330.59 376.09,329.99 376.53,329.39 376.98,328.79 377.43,328.17 377.87,327.54 378.32,326.91 378.77,326.27 379.21,325.63 379.66,324.98 380.10,324.32 380.55,323.66 381.00,322.99 381.44,322.32 381.89,321.64 382.34,320.97 382.78,320.29 383.23,319.60 383.67,318.92 384.12,318.24 384.57,317.56 385.01,316.88 385.46,316.21 385.91,315.53 386.35,314.87 386.80,314.21 387.25,313.55 387.69,312.91 388.14,312.27 388.58,311.64 389.03,311.03 389.48,310.43 389.92,309.84 390.37,309.26 390.82,308.70 391.26,308.16 391.71,307.63 392.15,307.13 392.60,306.63 393.05,306.16 393.49,305.71 393.94,305.28 394.39,304.87 394.83,304.48 395.28,304.10 395.72,303.75 396.17,303.42 396.62,303.11 397.06,302.82 397.51,302.55 397.96,302.30 398.40,302.06 398.85,301.84 399.30,301.64 399.74,301.45 400.19,301.28 400.63,301.11 401.08,300.96 401.53,300.82 401.97,300.68 402.42,300.56 402.87,300.43 403.31,300.31 403.76,300.19 404.20,300.07 404.65,299.95 405.10,299.83 405.54,299.70 405.99,299.56 406.44,299.42 406.88,299.27 407.33,299.10 407.78,298.93 408.22,298.74 408.67,298.54 409.11,298.32 409.56,298.09 410.01,297.84 410.45,297.58 410.90,297.30 411.35,297.01 411.79,296.70 412.24,296.38 412.68,296.04 413.13,295.69 413.58,295.34 414.02,294.97 414.47,294.60 414.92,294.22 415.36,293.85 415.81,293.48 416.25,293.12 416.70,292.77 417.15,292.43 417.59,292.11 418.04,291.82 418.49,291.56 418.93,291.33 419.38,291.14 419.83,290.99 420.27,290.90 420.72,290.85 421.16,290.86 421.61,290.93 422.06,291.06 422.50,291.26 422.95,291.53 423.40,291.86 423.84,292.27 424.29,292.74 424.73,293.29 425.18,293.89 425.63,294.57 426.07,295.31 426.52,296.10 426.97,296.95 427.41,297.86 427.86,298.81 428.30,299.80 428.75,300.83 429.20,301.89 429.64,302.98 430.09,304.10 430.54,305.23 430.98,306.38 431.43,307.54 431.88,308.70 432.32,309.87 432.77,311.03 433.21,312.19 433.66,313.34 434.11,314.49 434.55,315.62 435.00,316.73 435.45,317.83 435.89,318.91 436.34,319.97 436.78,321.01 437.23,322.03 437.68,323.03 438.12,324.01 438.57,324.96 439.02,325.89 439.46,326.80 439.91,327.69 440.36,328.55 440.80,329.39 441.25,330.20 441.69,331.00 442.14,331.77 442.59,332.52 443.03,333.25 443.48,333.96 443.93,334.64 444.37,335.31 444.82,335.96 445.26,336.59 445.71,337.21 446.16,337.80 446.60,338.38 447.05,338.94 447.50,339.48 447.94,340.01 448.39,340.52 448.83,341.02 449.28,341.51 449.73,341.98 450.17,342.43 450.62,342.88 451.07,343.31 451.51,343.73 451.96,344.14 452.41,344.53 452.85,344.92 453.30,345.30 453.74,345.66 454.19,346.01 454.64,346.36 455.08,346.70 455.53,347.02 455.98,347.34 456.42,347.65 456.87,347.95 457.31,348.25 457.76,348.53 458.21,348.81 458.65,349.09 459.10,349.35 459.55,349.61 459.99,349.86 460.44,350.11 460.88,350.35 461.33,350.58 461.78,350.81 462.22,351.03 462.67,351.25 463.12,351.46 463.56,351.67 464.01,351.87 464.46,352.07 464.90,352.26 465.35,352.45 465.79,352.64 466.24,352.82 466.69,352.99 467.13,353.17 467.58,353.33 468.03,353.50 468.47,353.66 468.92,353.82 469.36,353.97 469.81,354.12 470.26,354.27 470.70,354.42 471.15,354.56 471.60,354.70 472.04,354.83 472.49,354.97 472.93,355.10 473.38,355.23 473.83,355.35 474.27,355.47 474.72,355.60 475.17,355.71 475.61,355.83 476.06,355.94 476.51,356.05 476.95,356.16 477.40,356.27 477.84,356.38 478.29,356.48 478.74,356.58 479.18,356.68 479.63,356.78 480.08,356.87 480.52,356.97 480.97,357.06 481.41,357.15 481.86,357.24 482.31,357.33 482.75,357.41 483.20,357.50 483.65,357.58 484.09,357.66 484.54,357.74 484.99,357.82 485.43,357.90 485.88,357.97 486.32,358.05 486.77,358.12 487.22,358.19 487.66,358.26 488.11,358.33 488.56,358.40 489.00,358.47 489.45,358.54 489.89,358.60 490.34,358.67 490.79,358.73 491.23,358.79 491.68,358.85 492.13,358.92 492.57,358.97 493.02,359.03 493.46,359.09 493.91,359.15 494.36,359.20 494.80,359.26 495.25,359.31" fill="none" stroke="#dc1f1f" stroke-width="1.5" stroke-linejoin="round" />
<line x1="304.3" y1="284.7" x2="327" y2="284.7" stroke="#161616" stroke-width="1.3"/>
<text x="330" y="287.2" font-size="9.8" text-anchor="start" font-weight="normal" fill="#1c1c1c" >without PMMA</text>
<text x="286.3" y="290" font-size="14" text-anchor="start" font-weight="normal" fill="#1c1c1c" >(e)</text>
<text x="287.0" y="305.3" font-size="13.4" text-anchor="start" fill="#1c1c1c">2694.1(0.9) cm<tspan font-size="6.70" dx="-0.40" dy="-5.36">-<tspan dx="0.54">1</tspan></tspan></text>
<text x="287.0" y="324.2" font-size="13.3" text-anchor="start" fill="#1c1c1c">54.0(2) cm<tspan font-size="6.65" dx="-0.40" dy="-7.98">-<tspan dx="0.53">1</tspan></tspan></text>
<text x="287.0" y="338.0" font-size="13.4" text-anchor="start" fill="#1c1c1c"><tspan font-family="Liberation Serif" font-size="12.8">&#916;&#965;</tspan>=29.2 cm<tspan font-size="6.70" dx="-0.40" dy="-8.04">-<tspan dx="0.54">1</tspan></tspan></text>
<text x="421.8" y="290.1" font-size="13.2" text-anchor="start" fill="#1c1c1c">2723.3(0.4) cm<tspan font-size="6.60" dx="-0.40" dy="-6.60">-<tspan dx="0.53">1</tspan></tspan></text>
<text x="436.0" y="309.4" font-size="13.2" text-anchor="start" fill="#1c1c1c">34.6(1.2) cm<tspan font-size="6.60" dx="-0.40" dy="-7.92">-<tspan dx="0.53">1</tspan></tspan></text>
</svg>
</body></html>
